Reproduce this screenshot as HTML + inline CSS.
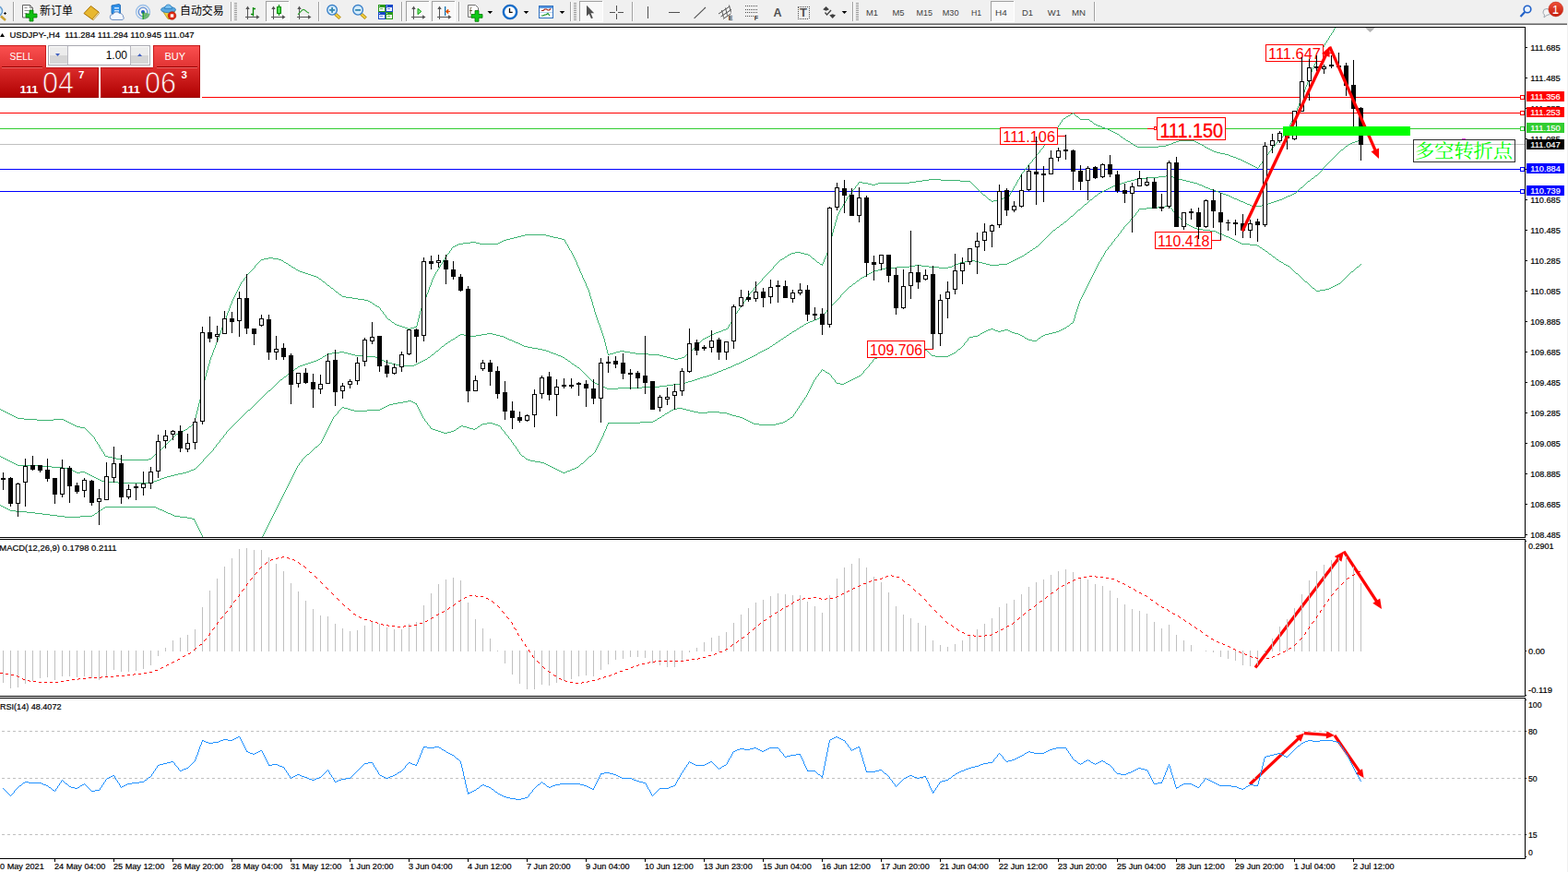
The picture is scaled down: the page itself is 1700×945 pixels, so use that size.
<!DOCTYPE html>
<html><head><meta charset="utf-8"><title>USDJPY H4</title>
<style>html,body{margin:0;padding:0;background:#fff;}body{width:1700px;height:945px;overflow:hidden;position:relative;font-family:"Liberation Sans", sans-serif;}svg{position:absolute;left:0;top:0;display:block}text{font-family:"Liberation Sans", sans-serif;}</style>
</head><body>
<svg width="1700" height="945" viewBox="0 0 1700 945">
<defs>
<linearGradient id="gTop" x1="0" y1="0" x2="0" y2="1"><stop offset="0" stop-color="#fb5050"/><stop offset="1" stop-color="#e03232"/></linearGradient>
<linearGradient id="gBot" x1="0" y1="0" x2="0" y2="1"><stop offset="0" stop-color="#dc2c2c"/><stop offset="1" stop-color="#ae0000"/></linearGradient>
<linearGradient id="gBotU" gradientUnits="userSpaceOnUse" x1="0" y1="73" x2="0" y2="106"><stop offset="0" stop-color="#dc2c2c"/><stop offset="1" stop-color="#ae0000"/></linearGradient>
<linearGradient id="gBtn" x1="0" y1="0" x2="0" y2="1"><stop offset="0" stop-color="#f4f4f4"/><stop offset="1" stop-color="#cfcfcf"/></linearGradient>
<linearGradient id="gBadge" x1="0" y1="0" x2="0" y2="1"><stop offset="0" stop-color="#ee5038"/><stop offset="1" stop-color="#c41c0c"/></linearGradient>
<clipPath id="cMain"><rect x="0" y="30" width="1653" height="552"/></clipPath>
<clipPath id="cMacd"><rect x="0" y="585" width="1653" height="169"/></clipPath>
<clipPath id="cRsi"><rect x="0" y="757" width="1653" height="173"/></clipPath>
</defs>
<rect x="0" y="0" width="1700" height="945" fill="#fff"/>
<g shape-rendering="crispEdges">
<g clip-path="url(#cMain)">
<rect x="219" y="105" width="1429" height="1" fill="#ff0000"/>
<rect x="0" y="122" width="1648" height="1" fill="#ff0000"/>
<rect x="0" y="139" width="1648" height="1" fill="#32cd32"/>
<rect x="0" y="156" width="1653" height="1" fill="#c0c0c0"/>
<rect x="0" y="183" width="1648" height="1" fill="#0000ff"/>
<rect x="0" y="207" width="1648" height="1" fill="#0000ff"/>
<path d="m0 443h1v1h-1zm1 1h2v1h-2zm2 1h2v1h-2zm2 1h2v1h-2zm2 1h2v1h-2zm2 1h2v1h-2zm2 1h2v1h-2zm2 1h2v1h-2zm2 1h2v1h-2zm2 1h2v1h-2zm2 1h7v1h-7zm7 1h14v1h-14zm14 1h18v1h-18zm18 -1h11v1h-11zm11 1h2v1h-2zm2 1h2v1h-2zm2 1h2v1h-2zm2 1h2v1h-2zm2 1h2v1h-2zm2 1h2v1h-2zm2 1h2v1h-2zm2 1h4v1h-4zm4 1h5v1h-5zm5 1h1v1h-1zm1 1h1v1h-1zm1 1h1v1h-1zm1 1h1v1h-1zm1 1h1v1h-1zm1 1h1v1h-1zm1 1h1v1h-1zm1 1h1v1h-1zm1 1h1v1h-1zm1 1h1v1h-1zm1 1h1v2h-1zm1 2h1v2h-1zm1 2h1v1h-1zm1 1h1v2h-1zm1 2h1v1h-1zm1 1h1v2h-1zm1 2h1v2h-1zm1 2h1v1h-1zm1 1h1v2h-1zm1 2h1v1h-1zm1 1h1v2h-1zm1 2h1v2h-1zm1 2h3v1h-3zm3 1h5v1h-5zm5 1h4v1h-4zm4 1h5v1h-5zm5 1h30v1h-30zm30 -1h3v1h-3zm3 -1h1v1h-1zm1 -1h1v1h-1zm1 -1h1v1h-1zm1 -1h1v1h-1zm1 -1h1v1h-1zm1 -1h1v1h-1zm1 -1h1v1h-1zm1 -1h2v1h-2zm2 -1h1v1h-1zm1 -1h1v1h-1zm1 -1h1v1h-1zm1 -1h1v1h-1zm1 -1h1v1h-1zm1 -1h1v1h-1zm1 -1h1v1h-1zm1 -1h1v1h-1zm1 -1h1v1h-1zm1 -1h1v1h-1zm1 -1h1v1h-1zm1 -1h1v1h-1zm1 -1h1v1h-1zm1 -1h1v1h-1zm1 -1h1v1h-1zm1 -1h1v1h-1zm1 -1h1v1h-1zm1 -1h1v1h-1zm1 -1h2v1h-2zm2 -1h2v1h-2zm2 -1h2v1h-2zm2 -1h2v1h-2zm2 -1h2v1h-2zm2 -1h2v1h-2zm2 -1h1v1h-1zm1 -1h1v1h-1zm1 -1h2v1h-2zm2 -1h1v1h-1zm1 -1h1v1h-1zm1 -1h1v1h-1zm1 -2h1v2h-1zm1 -4h1v4h-1zm1 -4h1v4h-1zm1 -4h1v4h-1zm1 -4h1v4h-1zm1 -4h1v4h-1zm1 -4h1v4h-1zm1 -5h1v5h-1zm1 -4h1v4h-1zm1 -4h1v4h-1zm1 -4h1v4h-1zm1 -4h1v4h-1zm1 -4h1v4h-1zm1 -4h1v4h-1zm1 -3h1v3h-1zm1 -4h1v4h-1zm1 -3h1v3h-1zm1 -4h1v4h-1zm1 -3h1v3h-1zm1 -2h1v2h-1zm1 -3h1v3h-1zm1 -3h1v3h-1zm1 -2h1v2h-1zm1 -3h1v3h-1zm1 -3h1v3h-1zm1 -2h1v2h-1zm1 -3h1v3h-1zm1 -3h1v3h-1zm1 -2h1v2h-1zm1 -3h1v3h-1zm1 -3h1v3h-1zm1 -2h1v2h-1zm1 -3h1v3h-1zm1 -3h1v3h-1zm1 -2h1v2h-1zm1 -3h1v3h-1zm1 -3h1v3h-1zm1 -2h1v2h-1zm1 -3h1v3h-1zm1 -3h1v3h-1zm1 -2h1v2h-1zm1 -3h1v3h-1zm1 -2h1v2h-1zm1 -2h1v2h-1zm1 -2h1v2h-1zm1 -2h1v2h-1zm1 -2h1v2h-1zm1 -2h1v2h-1zm1 -2h1v2h-1zm1 -2h1v2h-1zm1 -2h1v2h-1zm1 -2h1v2h-1zm1 -1h1v1h-1zm1 -1h1v1h-1zm1 -2h1v2h-1zm1 -1h1v1h-1zm1 -1h1v1h-1zm1 -2h1v2h-1zm1 -1h1v1h-1zm1 -1h1v1h-1zm1 -1h1v1h-1zm1 -1h1v1h-1zm1 -1h1v1h-1zm1 -1h1v1h-1zm1 -1h1v1h-1zm1 -1h1v1h-1zm1 -2h1v2h-1zm1 -1h1v1h-1zm1 -1h1v1h-1zm1 -1h1v1h-1zm1 -1h1v1h-1zm1 -1h1v1h-1zm1 -1h1v1h-1zm1 -1h3v1h-3zm3 -1h5v1h-5zm5 -1h5v1h-5zm5 1h6v1h-6zm6 1h3v1h-3zm3 1h2v1h-2zm2 1h1v1h-1zm1 1h2v1h-2zm2 1h2v1h-2zm2 1h1v1h-1zm1 1h2v1h-2zm2 1h1v1h-1zm1 1h2v1h-2zm2 1h2v1h-2zm2 1h1v1h-1zm1 1h2v1h-2zm2 1h2v1h-2zm2 1h3v1h-3zm3 1h3v1h-3zm3 1h3v1h-3zm3 1h3v1h-3zm3 1h3v1h-3zm3 1h3v1h-3zm3 1h2v1h-2zm2 1h1v1h-1zm1 1h2v1h-2zm2 1h1v1h-1zm1 1h1v1h-1zm1 1h2v1h-2zm2 1h1v1h-1zm1 1h1v1h-1zm1 1h1v1h-1zm1 1h2v1h-2zm2 1h1v1h-1zm1 1h1v1h-1zm1 1h2v1h-2zm2 1h1v1h-1zm1 1h1v1h-1zm1 1h1v1h-1zm1 1h2v1h-2zm2 1h1v1h-1zm1 1h1v1h-1zm1 1h2v1h-2zm2 1h1v1h-1zm1 1h4v1h-4zm4 1h7v1h-7zm7 1h6v1h-6zm6 1h7v1h-7zm7 1h4v1h-4zm4 1h2v1h-2zm2 1h2v1h-2zm2 1h1v1h-1zm1 1h2v1h-2zm2 1h1v1h-1zm1 1h2v1h-2zm2 1h2v1h-2zm2 1h1v1h-1zm1 1h1v2h-1zm1 2h1v1h-1zm1 1h1v1h-1zm1 1h1v2h-1zm1 2h1v1h-1zm1 1h1v1h-1zm1 1h1v2h-1zm1 2h1v1h-1zm1 1h1v1h-1zm1 1h2v1h-2zm2 1h1v1h-1zm1 1h1v1h-1zm1 1h2v1h-2zm2 1h1v1h-1zm1 1h2v1h-2zm2 1h3v1h-3zm3 1h3v1h-3zm3 1h3v1h-3zm3 1h3v1h-3zm3 1h3v1h-3zm3 -1h4v1h-4zm4 -1h3v1h-3zm2 -1h1v1h-1zm1 -4h1v4h-1zm1 -4h1v4h-1zm1 -4h1v4h-1zm1 -4h1v4h-1zm1 -3h1v3h-1zm1 -2h1v2h-1zm1 -3h1v3h-1zm1 -2h1v2h-1zm1 -3h1v3h-1zm1 -2h1v2h-1zm1 -3h1v3h-1zm1 -2h1v2h-1zm1 -3h1v3h-1zm1 -3h1v3h-1zm1 -2h1v2h-1zm1 -3h1v3h-1zm1 -3h1v3h-1zm1 -2h1v2h-1zm1 -2h1v2h-1zm1 -2h1v2h-1zm1 -2h1v2h-1zm1 -1h1v1h-1zm1 -2h1v2h-1zm1 -1h1v1h-1zm1 -2h1v2h-1zm1 -2h1v2h-1zm1 -1h1v1h-1zm1 -2h1v2h-1zm1 -2h1v2h-1zm1 -1h1v1h-1zm1 -2h1v2h-1zm1 -1h1v1h-1zm1 -2h1v2h-1zm1 -1h1v1h-1zm1 -1h1v1h-1zm1 -2h1v2h-1zm1 -1h1v1h-1zm1 -2h1v2h-1zm1 -1h1v1h-1zm1 -1h2v1h-2zm2 -1h2v1h-2zm2 -1h2v1h-2zm2 -1h5v1h-5zm5 -1h8v1h-8zm8 -1h6v1h-6zm6 1h4v1h-4zm4 1h20v1h-20zm20 -1h2v1h-2zm2 -1h2v1h-2zm2 -1h2v1h-2zm2 -1h3v1h-3zm3 -1h4v1h-4zm4 -1h4v1h-4zm4 -1h4v1h-4zm4 -1h4v1h-4zm4 -1h4v1h-4zm4 -1h23v1h-23zm23 1h4v1h-4zm4 1h4v1h-4zm4 1h5v1h-5zm5 1h4v1h-4zm4 1h3v1h-3zm3 1h1v2h-1zm1 2h1v2h-1zm1 2h1v1h-1zm1 1h1v2h-1zm1 2h1v2h-1zm1 2h1v2h-1zm1 2h1v1h-1zm1 1h1v2h-1zm1 2h1v2h-1zm1 2h1v2h-1zm1 2h1v2h-1zm1 2h1v2h-1zm1 2h1v2h-1zm1 2h1v3h-1zm1 3h1v2h-1zm1 2h1v2h-1zm1 2h1v3h-1zm1 3h1v2h-1zm1 2h1v2h-1zm1 2h1v3h-1zm1 3h1v2h-1zm1 2h1v2h-1zm1 2h1v2h-1zm1 2h1v3h-1zm1 3h1v2h-1zm1 2h1v2h-1zm1 2h1v3h-1zm1 3h1v4h-1zm1 4h1v3h-1zm1 3h1v3h-1zm1 3h1v4h-1zm1 4h1v3h-1zm1 3h1v4h-1zm1 4h1v3h-1zm1 3h1v3h-1zm1 3h1v3h-1zm1 3h1v3h-1zm1 3h1v2h-1zm1 2h1v3h-1zm1 3h1v3h-1zm1 3h1v3h-1zm1 3h1v3h-1zm1 3h1v3h-1zm1 3h1v4h-1zm1 4h1v4h-1zm1 4h1v4h-1zm1 4h1v4h-1zm1 4h1v2h-1zm1 1h1v1h-1zm1 -1h4v1h-4zm4 -1h3v1h-3zm3 -1h4v1h-4zm4 -1h5v1h-5zm5 1h6v1h-6zm6 1h6v1h-6zm6 1h14v1h-14zm14 1h12v1h-12zm12 1h4v1h-4zm4 1h4v1h-4zm4 1h4v1h-4zm4 1h4v1h-4zm4 1h4v1h-4zm4 -1h4v1h-4zm4 -1h3v1h-3zm3 -1h1v1h-1zm1 -1h1v1h-1zm1 -1h1v1h-1zm1 -1h1v1h-1zm1 -1h2v1h-2zm2 -1h1v1h-1zm1 -1h1v1h-1zm1 -1h1v1h-1zm1 -1h1v1h-1zm1 -1h1v1h-1zm1 -1h1v1h-1zm1 -1h1v1h-1zm1 -1h1v1h-1zm1 -1h1v1h-1zm1 -1h1v1h-1zm1 -1h1v1h-1zm1 -1h1v1h-1zm1 -1h1v1h-1zm1 -1h1v1h-1zm1 -1h2v1h-2zm2 -1h2v1h-2zm2 -1h2v1h-2zm2 -1h2v1h-2zm2 -1h2v1h-2zm2 -1h2v1h-2zm2 -1h2v1h-2zm2 -1h3v1h-3zm3 -1h3v1h-3zm3 -1h2v1h-2zm2 -1h3v1h-3zm3 -1h2v1h-2zm2 -2h1v2h-1zm1 -2h1v2h-1zm1 -1h1v1h-1zm1 -2h1v2h-1zm1 -2h1v2h-1zm1 -2h1v2h-1zm1 -1h1v1h-1zm1 -2h1v2h-1zm1 -2h1v2h-1zm1 -1h1v1h-1zm1 -2h1v2h-1zm1 -1h1v1h-1zm1 -2h1v2h-1zm1 -1h1v1h-1zm1 -2h1v2h-1zm1 -1h1v1h-1zm1 -1h1v1h-1zm1 -2h1v2h-1zm1 -1h1v1h-1zm1 -2h1v2h-1zm1 -1h1v1h-1zm1 -2h1v2h-1zm1 -1h1v1h-1zm1 -2h1v2h-1zm1 -1h1v1h-1zm1 -1h1v1h-1zm1 -1h1v1h-1zm1 -1h1v1h-1zm1 -2h1v2h-1zm1 -1h1v1h-1zm1 -1h1v1h-1zm1 -1h1v1h-1zm1 -1h1v1h-1zm1 -1h1v1h-1zm1 -1h1v1h-1zm1 -1h1v1h-1zm1 -1h1v1h-1zm1 -2h1v2h-1zm1 -1h1v1h-1zm1 -1h1v1h-1zm1 -1h1v1h-1zm1 -1h1v1h-1zm1 -1h1v1h-1zm1 -1h1v1h-1zm1 -1h1v1h-1zm1 -1h1v1h-1zm1 -1h1v1h-1zm1 -1h1v1h-1zm1 -1h1v1h-1zm1 -2h1v2h-1zm1 -1h1v1h-1zm1 -1h1v1h-1zm1 -1h1v1h-1zm1 -1h1v1h-1zm1 -1h1v1h-1zm1 -1h1v1h-1zm1 -1h1v1h-1zm1 -1h2v1h-2zm2 -1h2v1h-2zm2 -1h1v1h-1zm1 -1h2v1h-2zm2 -1h1v1h-1zm1 -1h2v1h-2zm2 -1h2v1h-2zm2 -1h4v1h-4zm4 -1h6v1h-6zm6 1h4v1h-4zm4 1h4v1h-4zm4 1h2v1h-2zm2 1h1v1h-1zm1 1h1v1h-1zm1 1h1v1h-1zm1 1h2v1h-2zm2 1h1v1h-1zm1 1h1v1h-1zm1 1h1v1h-1zm1 1h2v1h-2zm2 1h1v1h-1zm1 1h2v1h-2zm2 0h1v2h-1zm1 -2h1v2h-1zm1 -3h1v3h-1zm1 -2h1v2h-1zm1 -2h1v2h-1zm1 -3h1v3h-1zm1 -2h1v2h-1zm1 -4h1v4h-1zm1 -4h1v4h-1zm1 -4h1v4h-1zm1 -4h1v4h-1zm1 -4h1v4h-1zm1 -4h1v4h-1zm1 -3h1v3h-1zm1 -4h1v4h-1zm1 -3h1v3h-1zm1 -4h1v4h-1zm1 -2h1v2h-1zm1 -2h1v2h-1zm1 -2h1v2h-1zm1 -2h1v2h-1zm1 -1h1v1h-1zm1 -2h1v2h-1zm1 -2h1v2h-1zm1 -1h1v1h-1zm1 -2h1v2h-1zm1 -2h1v2h-1zm1 -2h1v2h-1zm1 -1h1v1h-1zm1 -1h1v1h-1zm1 -2h1v2h-1zm1 -1h1v1h-1zm1 -1h1v1h-1zm1 -2h1v2h-1zm1 -1h1v1h-1zm1 -1h1v1h-1zm1 -2h1v2h-1zm1 -1h1v1h-1zm1 -1h1v1h-1zm1 -2h1v2h-1zm1 -1h4v1h-4zm4 1h6v1h-6zm6 1h4v1h-4zm4 1h4v1h-4zm4 -1h3v1h-3zm3 -1h34v1h-34zm34 -1h7v1h-7zm7 -1h7v1h-7zm7 -1h7v1h-7zm7 -1h13v1h-13zm13 1h21v1h-21zm21 1h11v1h-11zm11 1h1v1h-1zm1 1h1v1h-1zm1 1h1v1h-1zm1 1h1v1h-1zm1 1h1v1h-1zm1 1h1v1h-1zm1 1h1v1h-1zm1 1h1v1h-1zm1 1h1v1h-1zm1 1h1v1h-1zm1 1h1v1h-1zm1 1h1v1h-1zm1 1h1v1h-1zm1 1h1v1h-1zm1 1h2v1h-2zm2 1h1v1h-1zm1 1h1v1h-1zm1 1h1v1h-1zm1 1h1v1h-1zm1 1h2v1h-2zm2 1h1v1h-1zm1 1h2v1h-2zm2 -1h4v1h-4zm4 -1h3v1h-3zm3 -1h4v1h-4zm4 -1h4v1h-4zm4 -1h2v1h-2zm2 -2h1v2h-1zm1 -2h1v2h-1zm1 -2h1v2h-1zm1 -1h1v1h-1zm1 -2h1v2h-1zm1 -2h1v2h-1zm1 -1h1v1h-1zm1 -2h1v2h-1zm1 -2h1v2h-1zm1 -2h1v2h-1zm1 -1h1v1h-1zm1 -2h1v2h-1zm1 -2h1v2h-1zm1 -2h1v2h-1zm1 -1h1v1h-1zm1 -1h1v1h-1zm1 -2h1v2h-1zm1 -1h1v1h-1zm1 -1h1v1h-1zm1 -1h1v1h-1zm1 -2h1v2h-1zm1 -1h1v1h-1zm1 -1h1v1h-1zm1 -1h1v1h-1zm1 -1h1v1h-1zm1 -2h1v2h-1zm1 -1h1v1h-1zm1 -1h1v1h-1zm1 -1h1v1h-1zm1 -2h1v2h-1zm1 -1h1v1h-1zm1 -1h1v1h-1zm1 -1h1v1h-1zm1 -2h1v2h-1zm1 -1h1v1h-1zm1 -1h1v1h-1zm1 -1h1v1h-1zm1 -2h1v2h-1zm1 -1h1v1h-1zm1 -1h1v1h-1zm1 -2h1v2h-1zm1 -1h1v1h-1zm1 -1h1v1h-1zm1 -1h1v1h-1zm1 -2h1v2h-1zm1 -1h1v1h-1zm1 -1h1v1h-1zm1 -2h1v2h-1zm1 -1h1v1h-1zm1 -2h1v2h-1zm1 -1h1v1h-1zm1 -2h1v2h-1zm1 -1h1v1h-1zm1 -2h1v2h-1zm1 -1h1v1h-1zm1 -2h1v2h-1zm1 -1h1v1h-1zm1 -2h1v2h-1zm1 -1h1v1h-1zm1 -1h2v1h-2zm2 -1h1v1h-1zm1 -1h2v1h-2zm2 -1h2v1h-2zm2 -1h1v1h-1zm1 -1h2v1h-2zm2 -1h1v1h-1zm1 1h1v1h-1zm1 1h1v1h-1zm1 1h1v1h-1zm1 1h2v1h-2zm2 1h1v1h-1zm1 1h1v1h-1zm1 1h10v1h-10zm10 1h1v1h-1zm1 1h2v1h-2zm2 1h1v1h-1zm1 1h1v1h-1zm1 1h2v1h-2zm2 1h2v1h-2zm2 1h3v1h-3zm3 1h2v1h-2zm2 1h3v1h-3zm3 1h3v1h-3zm3 1h2v1h-2zm2 1h2v1h-2zm2 1h2v1h-2zm2 1h2v1h-2zm2 1h2v1h-2zm2 1h2v1h-2zm2 1h1v1h-1zm1 1h1v1h-1zm1 1h2v1h-2zm2 1h1v1h-1zm1 1h2v1h-2zm2 1h1v1h-1zm1 1h2v1h-2zm2 1h2v1h-2zm2 1h1v1h-1zm1 1h2v1h-2zm2 1h1v1h-1zm1 1h2v1h-2zm2 1h2v1h-2zm2 1h23v1h-23zm23 -1h8v1h-8zm8 -1h3v1h-3zm3 -1h3v1h-3zm3 -1h2v1h-2zm2 -1h3v1h-3zm3 -1h3v1h-3zm3 -1h17v1h-17zm17 1h2v1h-2zm2 1h2v1h-2zm2 1h2v1h-2zm2 1h2v1h-2zm2 1h2v1h-2zm2 1h1v1h-1zm1 1h2v1h-2zm2 1h2v1h-2zm2 1h2v1h-2zm2 1h2v1h-2zm2 1h2v1h-2zm2 1h3v1h-3zm3 1h4v1h-4zm4 1h5v1h-5zm5 1h4v1h-4zm4 1h2v1h-2zm2 1h3v1h-3zm3 1h3v1h-3zm3 1h2v1h-2zm2 1h3v1h-3zm3 1h2v1h-2zm2 1h2v1h-2zm2 1h2v1h-2zm2 1h2v1h-2zm2 1h2v1h-2zm2 1h2v1h-2zm2 1h2v1h-2zm2 1h2v1h-2zm2 1h2v1h-2zm2 1h1v1h-1zm1 -1h1v1h-1zm1 -2h1v2h-1zm1 -1h1v1h-1zm1 -1h1v1h-1zm1 -2h1v2h-1zm1 -1h1v1h-1zm1 -2h1v2h-1zm1 -1h1v1h-1zm1 -1h1v1h-1zm1 -2h1v2h-1zm1 -1h1v1h-1zm1 -2h1v2h-1zm1 -1h1v1h-1zm1 -1h1v1h-1zm1 -2h1v2h-1zm1 -1h1v1h-1zm1 -1h1v1h-1zm1 -1h1v1h-1zm1 -2h1v2h-1zm1 -1h1v1h-1zm1 -1h1v1h-1zm1 -1h1v1h-1zm1 -1h1v1h-1zm1 -1h1v1h-1zm1 -1h1v1h-1zm1 -1h1v1h-1zm1 -1h1v1h-1zm1 -1h1v1h-1zm1 -1h1v1h-1zm1 -2h1v2h-1zm1 -2h1v2h-1zm1 -1h1v1h-1zm1 -2h1v2h-1zm1 -2h1v2h-1zm1 -2h1v2h-1zm1 -2h1v2h-1zm1 -2h1v2h-1zm1 -2h1v2h-1zm1 -3h1v3h-1zm1 -2h1v2h-1zm1 -2h1v2h-1zm1 -2h1v2h-1zm1 -3h1v3h-1zm1 -2h1v2h-1zm1 -3h1v3h-1zm1 -2h1v2h-1zm1 -3h1v3h-1zm1 -2h1v2h-1zm1 -3h1v3h-1zm1 -2h1v2h-1zm1 -3h1v3h-1zm1 -3h1v3h-1zm1 -2h1v2h-1zm1 -3h1v3h-1zm1 -3h1v3h-1zm1 -3h1v3h-1zm1 -2h1v2h-1zm1 -3h1v3h-1zm1 -3h1v3h-1zm1 -2h1v2h-1zm1 -2h1v2h-1zm1 -2h1v2h-1zm1 -2h1v2h-1zm1 -2h1v2h-1zm1 -2h1v2h-1zm1 -2h1v2h-1zm1 -2h1v2h-1zm1 -2h1v2h-1zm1 -2h1v2h-1zm1 -2h1v2h-1zm1 -2h1v2h-1zm1 -2h1v2h-1zm1 -2h1v2h-1zm1 -1h1v1h-1zm1 -2h1v2h-1zm1 -1h1v1h-1zm1 -2h1v2h-1zm1 -2h1v2h-1zm1 -1h1v1h-1zm1 -2h1v2h-1zm1 -1h1v1h-1zm1 -2h1v2h-1zm1 -2h1v2h-1zm1 -1h1v1h-1zm1 -2h1v2h-1zm1 -2h1v2h-1zm1 -2h1v2h-1zm1 -2h1v2h-1zm1 -2h1v2h-1z" fill="#3cb371"/>
<path d="m0 494h1v1h-1zm1 1h2v1h-2zm2 1h2v1h-2zm2 1h2v1h-2zm2 1h2v1h-2zm2 1h2v1h-2zm2 1h2v1h-2zm2 1h2v1h-2zm2 1h2v1h-2zm2 1h2v1h-2zm2 1h25v1h-25zm25 1h12v1h-12zm12 1h12v1h-12zm12 1h7v1h-7zm7 1h2v1h-2zm2 1h2v1h-2zm2 1h2v1h-2zm2 1h2v1h-2zm2 1h4v1h-4zm4 -1h5v1h-5zm5 1h2v1h-2zm2 1h2v1h-2zm2 1h2v1h-2zm2 1h2v1h-2zm2 1h2v1h-2zm2 1h2v1h-2zm2 1h2v1h-2zm2 1h2v1h-2zm2 1h2v1h-2zm2 1h6v1h-6zm6 1h12v1h-12zm12 1h37v1h-37zm37 -1h2v1h-2zm2 -1h3v1h-3zm3 -1h3v1h-3zm3 -1h2v1h-2zm2 -1h3v1h-3zm3 -1h3v1h-3zm3 -1h4v1h-4zm4 -1h4v1h-4zm4 -1h4v1h-4zm4 -1h5v1h-5zm5 -1h4v1h-4zm4 -1h3v1h-3zm3 -1h2v1h-2zm2 -1h3v1h-3zm3 -1h2v1h-2zm2 -1h1v1h-1zm1 -1h1v1h-1zm1 -1h1v1h-1zm1 -1h1v1h-1zm1 -1h1v1h-1zm1 -1h1v1h-1zm1 -1h1v1h-1zm1 -1h1v1h-1zm1 -2h1v2h-1zm1 -1h1v1h-1zm1 -1h1v1h-1zm1 -1h1v1h-1zm1 -1h1v1h-1zm1 -1h1v1h-1zm1 -1h1v1h-1zm1 -1h1v1h-1zm1 -1h1v1h-1zm1 -1h1v1h-1zm1 -1h1v1h-1zm1 -2h1v2h-1zm1 -1h1v1h-1zm1 -1h1v1h-1zm1 -2h1v2h-1zm1 -1h1v1h-1zm1 -1h1v1h-1zm1 -1h1v1h-1zm1 -2h1v2h-1zm1 -1h1v1h-1zm1 -1h1v1h-1zm1 -1h1v1h-1zm1 -2h1v2h-1zm1 -1h1v1h-1zm1 -1h1v1h-1zm1 -2h1v2h-1zm1 -1h1v1h-1zm1 -1h1v1h-1zm1 -1h1v1h-1zm1 -1h1v1h-1zm1 -1h1v1h-1zm1 -1h1v1h-1zm1 -1h1v1h-1zm1 -1h1v1h-1zm1 -1h1v1h-1zm1 -1h1v1h-1zm1 -1h1v1h-1zm1 -1h1v1h-1zm1 -1h1v1h-1zm1 -1h1v1h-1zm1 -1h1v1h-1zm1 -1h1v1h-1zm1 -1h1v1h-1zm1 -1h1v1h-1zm1 -1h1v1h-1zm1 -1h1v1h-1zm1 -1h1v1h-1zm1 -1h1v1h-1zm1 -1h1v1h-1zm1 -1h2v1h-2zm2 -1h1v1h-1zm1 -1h1v1h-1zm1 -1h1v1h-1zm1 -1h1v1h-1zm1 -1h1v1h-1zm1 -1h1v1h-1zm1 -1h1v1h-1zm1 -1h1v1h-1zm1 -1h1v1h-1zm1 -1h1v1h-1zm1 -1h1v1h-1zm1 -1h1v1h-1zm1 -1h1v1h-1zm1 -1h1v1h-1zm1 -1h1v1h-1zm1 -1h1v1h-1zm1 -1h1v1h-1zm1 -1h1v1h-1zm1 -1h1v1h-1zm1 -1h1v1h-1zm1 -1h2v1h-2zm2 -1h1v1h-1zm1 -1h1v1h-1zm1 -1h1v1h-1zm1 -1h1v1h-1zm1 -1h1v1h-1zm1 -1h1v1h-1zm1 -1h1v1h-1zm1 -1h1v1h-1zm1 -1h1v1h-1zm1 -1h1v1h-1zm1 -1h1v1h-1zm1 -1h2v1h-2zm2 -1h1v1h-1zm1 -1h1v1h-1zm1 -1h2v1h-2zm2 -1h1v1h-1zm1 -1h1v1h-1zm1 -1h2v1h-2zm2 -1h1v1h-1zm1 -1h1v1h-1zm1 -1h2v1h-2zm2 -1h1v1h-1zm1 -1h1v1h-1zm1 -1h2v1h-2zm2 -1h1v1h-1zm1 -1h2v1h-2zm2 -1h3v1h-3zm3 -1h3v1h-3zm3 -1h3v1h-3zm3 -1h3v1h-3zm3 -1h3v1h-3zm3 -1h3v1h-3zm3 -1h2v1h-2zm2 -1h2v1h-2zm2 -1h2v1h-2zm2 -1h1v1h-1zm1 -1h2v1h-2zm2 -1h2v1h-2zm2 -1h2v1h-2zm2 -1h4v1h-4zm4 -1h8v1h-8zm8 -1h5v1h-5zm5 1h4v1h-4zm4 1h4v1h-4zm4 1h4v1h-4zm4 1h11v1h-11zm11 1h11v1h-11zm11 1h2v1h-2zm2 1h2v1h-2zm2 1h3v1h-3zm3 1h2v1h-2zm2 1h2v1h-2zm2 1h3v1h-3zm3 1h4v1h-4zm4 1h4v1h-4zm4 1h4v1h-4zm4 1h16v1h-16zm16 -1h2v1h-2zm2 -1h2v1h-2zm2 -1h2v1h-2zm2 -1h2v1h-2zm2 -1h2v1h-2zm2 -1h2v1h-2zm2 -1h2v1h-2zm2 -1h1v1h-1zm1 -1h2v1h-2zm2 -1h1v1h-1zm1 -1h1v1h-1zm1 -1h2v1h-2zm2 -1h1v1h-1zm1 -1h1v1h-1zm1 -1h1v1h-1zm1 -1h2v1h-2zm2 -1h1v1h-1zm1 -1h1v1h-1zm1 -1h1v1h-1zm1 -1h1v1h-1zm1 -1h2v1h-2zm2 -1h1v1h-1zm1 -1h1v1h-1zm1 -1h2v1h-2zm2 -1h1v1h-1zm1 -1h2v1h-2zm2 -1h1v1h-1zm1 -1h2v1h-2zm2 -1h2v1h-2zm2 -1h1v1h-1zm1 -1h2v1h-2zm2 -1h1v1h-1zm1 -1h2v1h-2zm2 -1h4v1h-4zm4 1h6v1h-6zm6 1h7v1h-7zm7 -1h6v1h-6zm6 -1h6v1h-6zm6 -1h6v1h-6zm6 1h4v1h-4zm4 1h4v1h-4zm4 1h4v1h-4zm4 1h2v1h-2zm2 1h2v1h-2zm2 1h2v1h-2zm2 1h3v1h-3zm3 1h2v1h-2zm2 1h2v1h-2zm2 1h3v1h-3zm3 1h2v1h-2zm2 1h2v1h-2zm2 1h2v1h-2zm2 1h4v1h-4zm4 1h5v1h-5zm5 1h6v1h-6zm6 1h5v1h-5zm5 1h4v1h-4zm4 1h3v1h-3zm3 1h2v1h-2zm2 1h3v1h-3zm3 1h3v1h-3zm3 1h2v1h-2zm2 1h3v1h-3zm3 1h2v1h-2zm2 1h2v1h-2zm2 1h1v1h-1zm1 1h2v1h-2zm2 1h1v1h-1zm1 1h2v1h-2zm2 1h1v1h-1zm1 1h1v1h-1zm1 1h2v1h-2zm2 1h1v1h-1zm1 1h2v1h-2zm2 1h1v1h-1zm1 1h2v1h-2zm2 1h1v1h-1zm1 1h1v1h-1zm1 1h1v1h-1zm1 1h1v1h-1zm1 1h1v1h-1zm1 1h1v1h-1zm1 1h1v1h-1zm1 1h1v1h-1zm1 1h1v1h-1zm1 1h1v1h-1zm1 1h1v1h-1zm1 1h1v1h-1zm1 1h1v1h-1zm1 1h1v1h-1zm1 1h1v1h-1zm1 1h2v1h-2zm2 1h2v1h-2zm2 1h2v1h-2zm2 1h2v1h-2zm2 1h3v1h-3zm3 1h2v1h-2zm2 1h2v1h-2zm2 1h12v1h-12zm12 -1h26v1h-26zm26 -1h19v1h-19zm19 -1h8v1h-8zm8 -1h7v1h-7zm7 -1h8v1h-8zm8 -1h5v1h-5zm5 -1h3v1h-3zm3 -1h4v1h-4zm4 -1h3v1h-3zm3 -1h3v1h-3zm3 -1h3v1h-3zm3 -1h3v1h-3zm3 -1h4v1h-4zm4 -1h3v1h-3zm3 -1h3v1h-3zm3 -1h2v1h-2zm2 -1h3v1h-3zm3 -1h2v1h-2zm2 -1h3v1h-3zm3 -1h2v1h-2zm2 -1h3v1h-3zm3 -1h2v1h-2zm2 -1h3v1h-3zm3 -1h2v1h-2zm2 -1h2v1h-2zm2 -1h2v1h-2zm2 -1h3v1h-3zm3 -1h2v1h-2zm2 -1h2v1h-2zm2 -1h2v1h-2zm2 -1h2v1h-2zm2 -1h2v1h-2zm2 -1h2v1h-2zm2 -1h2v1h-2zm2 -1h2v1h-2zm2 -1h2v1h-2zm2 -1h2v1h-2zm2 -1h1v1h-1zm1 -1h2v1h-2zm2 -1h2v1h-2zm2 -1h2v1h-2zm2 -1h2v1h-2zm2 -1h2v1h-2zm2 -1h2v1h-2zm2 -1h1v1h-1zm1 -1h2v1h-2zm2 -1h1v1h-1zm1 -1h2v1h-2zm2 -1h1v1h-1zm1 -1h2v1h-2zm2 -1h1v1h-1zm1 -1h2v1h-2zm2 -1h1v1h-1zm1 -1h2v1h-2zm2 -1h1v1h-1zm1 -1h2v1h-2zm2 -1h1v1h-1zm1 -1h2v1h-2zm2 -1h1v1h-1zm1 -1h2v1h-2zm2 -1h1v1h-1zm1 -1h2v1h-2zm2 -1h2v1h-2zm2 -1h1v1h-1zm1 -1h2v1h-2zm2 -1h1v1h-1zm1 -1h2v1h-2zm2 -1h2v1h-2zm2 -1h1v1h-1zm1 -1h2v1h-2zm2 -1h2v1h-2zm2 -1h2v1h-2zm2 -1h3v1h-3zm3 -1h2v1h-2zm2 -1h3v1h-3zm3 -1h2v1h-2zm2 -1h2v1h-2zm2 -1h1v1h-1zm1 -1h1v1h-1zm1 -1h1v1h-1zm1 -1h1v1h-1zm1 -1h1v1h-1zm1 -1h1v1h-1zm1 -2h1v2h-1zm1 -1h1v1h-1zm1 -1h1v1h-1zm1 -1h1v1h-1zm1 -1h1v1h-1zm1 -1h1v1h-1zm1 -1h1v1h-1zm1 -1h1v1h-1zm1 -1h1v1h-1zm1 -1h1v1h-1zm1 -1h1v1h-1zm1 -1h1v1h-1zm1 -1h1v1h-1zm1 -1h1v1h-1zm1 -1h1v1h-1zm1 -2h1v2h-1zm1 -1h1v1h-1zm1 -1h1v1h-1zm1 -1h1v1h-1zm1 -1h1v1h-1zm1 -1h1v1h-1zm1 -1h1v1h-1zm1 -1h1v1h-1zm1 -1h1v1h-1zm1 -1h1v1h-1zm1 -1h2v1h-2zm2 -1h1v1h-1zm1 -1h1v1h-1zm1 -1h2v1h-2zm2 -1h1v1h-1zm1 -1h1v1h-1zm1 -1h2v1h-2zm2 -1h1v1h-1zm1 -1h1v1h-1zm1 -1h2v1h-2zm2 -1h2v1h-2zm2 -1h2v1h-2zm2 -1h1v1h-1zm1 -1h2v1h-2zm2 -1h2v1h-2zm2 -1h2v1h-2zm2 -1h2v1h-2zm2 -1h4v1h-4zm4 -1h4v1h-4zm4 -1h4v1h-4zm4 -1h12v1h-12zm12 -1h14v1h-14zm14 -1h6v1h-6zm6 -1h7v1h-7zm7 1h8v1h-8zm8 1h11v1h-11zm11 1h10v1h-10zm10 -1h4v1h-4zm4 -1h2v1h-2zm2 -1h2v1h-2zm2 -1h3v1h-3zm3 -1h2v1h-2zm2 -1h5v1h-5zm5 -1h6v1h-6zm6 -1h5v1h-5zm5 1h4v1h-4zm4 1h4v1h-4zm4 1h4v1h-4zm4 1h4v1h-4zm4 1h10v1h-10zm10 -1h9v1h-9zm9 -1h2v1h-2zm2 -1h2v1h-2zm2 -1h2v1h-2zm2 -1h2v1h-2zm2 -1h2v1h-2zm2 -1h2v1h-2zm2 -1h2v1h-2zm2 -1h2v1h-2zm2 -1h2v1h-2zm2 -1h1v1h-1zm1 -1h2v1h-2zm2 -1h1v1h-1zm1 -1h2v1h-2zm2 -1h1v1h-1zm1 -1h2v1h-2zm2 -1h1v1h-1zm1 -1h2v1h-2zm2 -1h1v1h-1zm1 -1h2v1h-2zm2 -1h1v1h-1zm1 -1h1v1h-1zm1 -1h1v1h-1zm1 -1h1v1h-1zm1 -1h1v1h-1zm1 -1h1v1h-1zm1 -1h1v1h-1zm1 -1h1v1h-1zm1 -1h1v1h-1zm1 -1h1v1h-1zm1 -1h1v1h-1zm1 -1h1v1h-1zm1 -1h1v1h-1zm1 -1h1v1h-1zm1 -1h1v1h-1zm1 -1h1v1h-1zm1 -1h1v1h-1zm1 -1h2v1h-2zm2 -1h1v1h-1zm1 -1h1v1h-1zm1 -1h2v1h-2zm2 -1h1v1h-1zm1 -1h1v1h-1zm1 -1h2v1h-2zm2 -1h1v1h-1zm1 -1h1v1h-1zm1 -1h2v1h-2zm2 -1h1v1h-1zm1 -1h1v1h-1zm1 -1h1v1h-1zm1 -1h1v1h-1zm1 -1h1v1h-1zm1 -1h2v1h-2zm2 -1h1v1h-1zm1 -1h1v1h-1zm1 -1h1v1h-1zm1 -1h1v1h-1zm1 -1h1v1h-1zm1 -1h1v1h-1zm1 -1h2v1h-2zm2 -1h1v1h-1zm1 -1h1v1h-1zm1 -1h1v1h-1zm1 -1h1v1h-1zm1 -1h1v1h-1zm1 -1h2v1h-2zm2 -1h1v1h-1zm1 -1h1v1h-1zm1 -1h1v1h-1zm1 -1h1v1h-1zm1 -1h2v1h-2zm2 -1h1v1h-1zm1 -1h1v1h-1zm1 -1h1v1h-1zm1 -1h2v1h-2zm2 -1h1v1h-1zm1 -1h1v1h-1zm1 -1h2v1h-2zm2 -1h2v1h-2zm2 -1h2v1h-2zm2 -1h2v1h-2zm2 -1h2v1h-2zm2 -1h2v1h-2zm2 -1h2v1h-2zm2 -1h2v1h-2zm2 -1h3v1h-3zm3 -1h3v1h-3zm3 -1h3v1h-3zm3 -1h3v1h-3zm3 -1h3v1h-3zm3 -1h4v1h-4zm4 -1h4v1h-4zm4 -1h4v1h-4zm4 -1h10v1h-10zm10 -1h12v1h-12zm12 -1h8v1h-8zm8 -1h5v1h-5zm5 1h3v1h-3zm3 1h3v1h-3zm3 1h3v1h-3zm3 1h4v1h-4zm4 1h4v1h-4zm4 1h4v1h-4zm4 1h4v1h-4zm4 1h4v1h-4zm4 1h2v1h-2zm2 1h3v1h-3zm3 1h2v1h-2zm2 1h2v1h-2zm2 1h3v1h-3zm3 1h2v1h-2zm2 1h3v1h-3zm3 1h3v1h-3zm3 1h3v1h-3zm3 1h2v1h-2zm2 1h3v1h-3zm3 1h3v1h-3zm3 1h3v1h-3zm3 1h2v1h-2zm2 1h2v1h-2zm2 1h2v1h-2zm2 1h3v1h-3zm3 1h2v1h-2zm2 1h2v1h-2zm2 1h3v1h-3zm3 1h2v1h-2zm2 1h2v1h-2zm2 1h3v1h-3zm3 1h2v1h-2zm2 1h11v1h-11zm11 -1h3v1h-3zm3 -1h4v1h-4zm4 -1h3v1h-3zm3 -1h3v1h-3zm3 -1h3v1h-3zm3 -1h3v1h-3zm3 -1h3v1h-3zm3 -1h2v1h-2zm2 -1h2v1h-2zm2 -1h2v1h-2zm2 -1h3v1h-3zm3 -1h2v1h-2zm2 -1h2v1h-2zm2 -1h2v1h-2zm2 -1h1v1h-1zm1 -1h1v1h-1zm1 -1h1v1h-1zm1 -1h1v1h-1zm1 -1h1v1h-1zm1 -1h2v1h-2zm2 -1h1v1h-1zm1 -1h1v1h-1zm1 -1h1v1h-1zm1 -1h1v1h-1zm1 -1h1v1h-1zm1 -1h1v1h-1zm1 -1h2v1h-2zm2 -1h1v1h-1zm1 -1h1v1h-1zm1 -1h2v1h-2zm2 -1h1v1h-1zm1 -1h1v1h-1zm1 -1h2v1h-2zm2 -1h1v1h-1zm1 -1h1v1h-1zm1 -1h1v1h-1zm1 -1h1v1h-1zm1 -1h1v1h-1zm1 -1h1v1h-1zm1 -2h1v2h-1zm1 -1h1v1h-1zm1 -1h1v1h-1zm1 -1h1v1h-1zm1 -1h1v1h-1zm1 -1h1v1h-1zm1 -1h1v1h-1zm1 -1h1v1h-1zm1 -1h1v1h-1zm1 -1h1v1h-1zm1 -1h1v1h-1zm1 -1h1v1h-1zm1 -1h1v1h-1zm1 -1h1v1h-1zm1 -1h1v1h-1zm1 -1h1v1h-1zm1 -1h1v1h-1zm1 -1h1v1h-1zm1 -1h1v1h-1zm1 -1h1v1h-1zm1 -1h2v1h-2zm2 -1h1v1h-1zm1 -1h1v1h-1zm1 -1h1v1h-1zm1 -1h2v1h-2zm2 -1h1v1h-1zm1 -1h2v1h-2zm2 -1h2v1h-2zm2 -1h3v1h-3zm3 -1h3v1h-3zm3 -1h2v1h-2zm2 -1h2v1h-2z" fill="#3cb371"/>
<path d="m0 547h1v1h-1zm1 1h2v1h-2zm2 1h2v1h-2zm2 1h2v1h-2zm2 1h2v1h-2zm2 1h2v1h-2zm2 1h6v1h-6zm6 1h12v1h-12zm12 1h9v1h-9zm9 1h8v1h-8zm8 1h8v1h-8zm8 1h8v1h-8zm8 1h8v1h-8zm8 1h17v1h-17zm17 -1h13v1h-13zm13 -1h2v1h-2zm2 -1h1v1h-1zm1 -1h2v1h-2zm2 -1h1v1h-1zm1 -1h2v1h-2zm2 -1h1v1h-1zm1 -1h2v1h-2zm2 -1h1v1h-1zm1 -1h2v1h-2zm2 -1h55v1h-55zm55 1h2v1h-2zm2 1h2v1h-2zm2 1h3v1h-3zm3 1h2v1h-2zm2 1h2v1h-2zm2 1h2v1h-2zm2 1h3v1h-3zm3 1h2v1h-2zm2 1h2v1h-2zm2 1h6v1h-6zm6 1h8v1h-8zm8 1h5v1h-5zm5 1h3v1h-3zm2 1h1v1h-1zm1 1h1v2h-1zm1 2h1v2h-1zm1 2h1v2h-1zm1 2h1v2h-1zm1 2h1v2h-1zm1 2h1v2h-1zm1 2h1v2h-1zm1 2h1v2h-1zm1 2h1v3h-1zm1 3h1v4h-1zm1 4h1v3h-1zm1 3h1v4h-1zm1 4h1v3h-1zm1 3h1v4h-1zm1 4h1v4h-1zm1 4h1v3h-1zm1 3h1v4h-1zm1 4h1v3h-1zm1 3h1v4h-1zm1 4h1v2h-1zm1 2h1v1h-1zm1 1h1v1h-1zm1 1h1v2h-1zm1 2h1v1h-1zm1 1h1v1h-1zm1 1h1v1h-1zm1 1h1v1h-1zm1 1h1v2h-1zm1 2h1v1h-1zm1 1h1v1h-1zm1 1h1v1h-1zm1 1h1v1h-1zm1 1h1v2h-1zm1 2h1v1h-1zm1 1h1v1h-1zm1 1h1v1h-1zm1 1h1v1h-1zm1 1h1v2h-1zm1 2h1v1h-1zm1 1h1v1h-1zm1 1h1v1h-1zm1 1h1v1h-1zm1 1h1v2h-1zm1 2h1v1h-1zm1 1h1v1h-1zm1 -2h1v2h-1zm1 -1h1v1h-1zm1 -2h1v2h-1zm1 -1h1v1h-1zm1 -2h1v2h-1zm1 -1h1v1h-1zm1 -2h1v2h-1zm1 -1h1v1h-1zm1 -2h1v2h-1zm1 -1h1v1h-1zm1 -2h1v2h-1zm1 -1h1v1h-1zm1 -2h1v2h-1zm1 -1h1v1h-1zm1 -2h1v2h-1zm1 -1h1v1h-1zm1 -2h1v2h-1zm1 -1h1v1h-1zm1 -2h1v2h-1zm1 -3h1v3h-1zm1 -4h1v4h-1zm1 -4h1v4h-1zm1 -5h1v5h-1zm1 -4h1v4h-1zm1 -4h1v4h-1zm1 -5h1v5h-1zm1 -4h1v4h-1zm1 -4h1v4h-1zm1 -3h1v3h-1zm1 -2h1v2h-1zm1 -2h1v2h-1zm1 -2h1v2h-1zm1 -2h1v2h-1zm1 -2h1v2h-1zm1 -2h1v2h-1zm1 -2h1v2h-1zm1 -2h1v2h-1zm1 -2h1v2h-1zm1 -2h1v2h-1zm1 -2h1v2h-1zm1 -2h1v2h-1zm1 -2h1v2h-1zm1 -2h1v2h-1zm1 -2h1v2h-1zm1 -2h1v2h-1zm1 -2h1v2h-1zm1 -2h1v2h-1zm1 -2h1v2h-1zm1 -2h1v2h-1zm1 -2h1v2h-1zm1 -2h1v2h-1zm1 -2h1v2h-1zm1 -2h1v2h-1zm1 -2h1v2h-1zm1 -2h1v2h-1zm1 -2h1v2h-1zm1 -2h1v2h-1zm1 -2h1v2h-1zm1 -2h1v2h-1zm1 -2h1v2h-1zm1 -2h1v2h-1zm1 -2h1v2h-1zm1 -2h1v2h-1zm1 -2h1v2h-1zm1 -2h1v2h-1zm1 -2h1v2h-1zm1 -2h1v2h-1zm1 -1h1v1h-1zm1 -2h1v2h-1zm1 -1h1v1h-1zm1 -1h1v1h-1zm1 -2h1v2h-1zm1 -1h1v1h-1zm1 -1h1v1h-1zm1 -1h1v1h-1zm1 -1h1v1h-1zm1 -1h1v1h-1zm1 -1h2v1h-2zm2 -1h1v1h-1zm1 -1h1v1h-1zm1 -1h1v1h-1zm1 -1h1v1h-1zm1 -1h1v1h-1zm1 -1h1v1h-1zm1 -1h1v1h-1zm1 -1h2v1h-2zm2 -1h1v1h-1zm1 -1h1v1h-1zm1 -1h1v1h-1zm1 -1h1v1h-1zm1 -2h1v2h-1zm1 -2h1v2h-1zm1 -2h1v2h-1zm1 -2h1v2h-1zm1 -2h1v2h-1zm1 -2h1v2h-1zm1 -2h1v2h-1zm1 -2h1v2h-1zm1 -2h1v2h-1zm1 -2h1v2h-1zm1 -2h1v2h-1zm1 -2h1v2h-1zm1 -2h1v2h-1zm1 -2h1v2h-1zm1 -1h1v1h-1zm1 -1h1v1h-1zm1 -1h1v1h-1zm1 -1h1v1h-1zm1 -2h1v2h-1zm1 -1h1v1h-1zm1 -1h1v1h-1zm1 -1h1v1h-1zm1 -1h1v1h-1zm1 -1h2v1h-2zm2 1h4v1h-4zm4 1h3v1h-3zm3 1h4v1h-4zm4 1h14v1h-14zm14 -1h14v1h-14zm14 -1h2v1h-2zm2 -1h2v1h-2zm2 -1h2v1h-2zm2 -1h2v1h-2zm2 -1h2v1h-2zm2 -1h4v1h-4zm4 -1h5v1h-5zm5 -1h6v1h-6zm6 -1h5v1h-5zm5 -1h4v1h-4zm4 1h2v1h-2zm2 1h2v1h-2zm2 1h2v1h-2zm1 1h1v1h-1zm1 1h1v2h-1zm1 2h1v2h-1zm1 2h1v2h-1zm1 2h1v2h-1zm1 2h1v2h-1zm1 2h1v2h-1zm1 2h1v2h-1zm1 2h1v1h-1zm1 1h1v2h-1zm1 2h1v1h-1zm1 1h1v1h-1zm1 1h1v2h-1zm1 2h1v1h-1zm1 1h1v1h-1zm1 1h1v2h-1zm1 2h2v1h-2zm2 1h3v1h-3zm3 1h3v1h-3zm3 1h3v1h-3zm3 1h3v1h-3zm3 1h4v1h-4zm4 -1h4v1h-4zm4 -1h3v1h-3zm3 -1h2v1h-2zm2 -1h1v1h-1zm1 -1h2v1h-2zm2 -1h1v1h-1zm1 -1h2v1h-2zm2 -1h2v1h-2zm2 1h4v1h-4zm4 1h3v1h-3zm3 1h4v1h-4zm4 1h2v1h-2zm2 -1h2v1h-2zm2 -1h1v1h-1zm1 -1h2v1h-2zm2 -1h1v1h-1zm1 -1h2v1h-2zm2 -1h5v1h-5zm5 -1h6v1h-6zm6 1h3v1h-3zm3 1h3v1h-3zm3 1h2v1h-2zm2 1h1v1h-1zm1 1h1v2h-1zm1 2h1v1h-1zm1 1h1v1h-1zm1 1h1v1h-1zm1 1h1v2h-1zm1 2h1v1h-1zm1 1h1v1h-1zm1 1h1v1h-1zm1 1h1v2h-1zm1 2h1v1h-1zm1 1h1v1h-1zm1 1h1v2h-1zm1 2h1v1h-1zm1 1h1v2h-1zm1 2h1v1h-1zm1 1h1v1h-1zm1 1h1v2h-1zm1 2h1v1h-1zm1 1h1v2h-1zm1 2h1v1h-1zm1 1h1v2h-1zm1 2h1v1h-1zm1 1h1v1h-1zm1 1h2v1h-2zm2 1h1v1h-1zm1 1h1v1h-1zm1 1h2v1h-2zm2 1h3v1h-3zm3 1h5v1h-5zm5 1h6v1h-6zm6 1h4v1h-4zm4 1h2v1h-2zm2 1h2v1h-2zm2 1h2v1h-2zm2 1h2v1h-2zm2 1h2v1h-2zm2 1h2v1h-2zm2 1h2v1h-2zm2 1h2v1h-2zm2 1h2v1h-2zm2 1h2v1h-2zm2 1h3v1h-3zm3 -1h2v1h-2zm2 -1h3v1h-3zm3 -1h2v1h-2zm2 -1h3v1h-3zm3 -1h2v1h-2zm2 -1h2v1h-2zm2 -1h1v1h-1zm1 -1h1v1h-1zm1 -1h1v1h-1zm1 -1h2v1h-2zm2 -1h1v1h-1zm1 -1h1v1h-1zm1 -1h1v1h-1zm1 -1h1v1h-1zm1 -1h1v1h-1zm1 -1h1v1h-1zm1 -1h1v1h-1zm1 -1h2v1h-2zm2 -1h1v1h-1zm1 -1h1v1h-1zm1 -1h1v1h-1zm1 -1h1v1h-1zm1 -2h1v2h-1zm1 -2h1v2h-1zm1 -2h1v2h-1zm1 -2h1v2h-1zm1 -2h1v2h-1zm1 -2h1v2h-1zm1 -2h1v2h-1zm1 -2h1v2h-1zm1 -2h1v2h-1zm1 -3h1v3h-1zm1 -2h1v2h-1zm1 -2h1v2h-1zm1 -3h1v3h-1zm1 -2h1v2h-1zm1 -2h1v2h-1zm1 0h34v1h-34zm34 -1h14v1h-14zm14 -1h2v1h-2zm2 -1h2v1h-2zm2 -1h1v1h-1zm1 -1h2v1h-2zm2 -1h2v1h-2zm2 -1h1v1h-1zm1 -1h2v1h-2zm2 -1h1v1h-1zm1 -1h2v1h-2zm2 -1h2v1h-2zm2 -1h1v1h-1zm1 -1h2v1h-2zm2 -1h2v1h-2zm2 -1h4v1h-4zm4 -1h6v1h-6zm6 1h4v1h-4zm4 1h4v1h-4zm4 1h4v1h-4zm4 1h5v1h-5zm5 1h10v1h-10zm10 -1h13v1h-13zm13 1h8v1h-8zm8 1h3v1h-3zm3 1h3v1h-3zm3 1h4v1h-4zm4 1h4v1h-4zm4 1h3v1h-3zm3 1h2v1h-2zm2 1h2v1h-2zm2 1h2v1h-2zm2 1h2v1h-2zm2 1h2v1h-2zm2 1h2v1h-2zm2 1h6v1h-6zm6 1h18v1h-18zm18 -1h4v1h-4zm4 -1h4v1h-4zm4 -1h2v1h-2zm2 -1h2v1h-2zm2 -1h1v1h-1zm1 -1h2v1h-2zm2 -1h1v1h-1zm1 -1h2v1h-2zm2 -1h1v1h-1zm1 -2h1v2h-1zm1 -1h1v1h-1zm1 -2h1v2h-1zm1 -1h1v1h-1zm1 -2h1v2h-1zm1 -1h1v1h-1zm1 -2h1v2h-1zm1 -1h1v1h-1zm1 -2h1v2h-1zm1 -1h1v1h-1zm1 -2h1v2h-1zm1 -1h1v1h-1zm1 -2h1v2h-1zm1 -1h1v1h-1zm1 -2h1v2h-1zm1 -2h1v2h-1zm1 -2h1v2h-1zm1 -2h1v2h-1zm1 -2h1v2h-1zm1 -2h1v2h-1zm1 -2h1v2h-1zm1 -2h1v2h-1zm1 -2h1v2h-1zm1 -1h1v1h-1zm1 -2h1v2h-1zm1 -1h1v1h-1zm1 -1h1v1h-1zm1 -2h1v2h-1zm1 -1h1v1h-1zm1 -1h1v1h-1zm1 -2h1v2h-1zm1 -1h1v1h-1zm1 1h2v1h-2zm2 1h1v1h-1zm1 1h2v1h-2zm2 1h2v1h-2zm2 1h1v1h-1zm1 1h1v1h-1zm1 1h1v2h-1zm1 2h1v1h-1zm1 1h1v1h-1zm1 1h1v1h-1zm1 1h1v2h-1zm1 2h1v1h-1zm1 1h4v1h-4zm4 1h4v1h-4zm4 -1h2v1h-2zm2 -1h2v1h-2zm2 -1h2v1h-2zm2 -1h2v1h-2zm2 -1h2v1h-2zm2 -1h2v1h-2zm2 -1h2v1h-2zm2 -1h2v1h-2zm2 -1h2v1h-2zm2 -1h1v1h-1zm1 -1h1v1h-1zm1 -1h1v1h-1zm1 -2h1v2h-1zm1 -1h1v1h-1zm1 -1h1v1h-1zm1 -1h1v1h-1zm1 -1h1v1h-1zm1 -1h1v1h-1zm1 -2h1v2h-1zm1 -1h1v1h-1zm1 -1h1v1h-1zm1 -1h1v1h-1zm1 -2h1v2h-1zm1 -1h1v1h-1zm1 -1h3v1h-3zm3 -1h6v1h-6zm6 -1h5v1h-5zm5 -1h5v1h-5zm5 -1h6v1h-6zm6 -1h6v1h-6zm6 -1h7v1h-7zm7 -1h8v1h-8zm8 -1h7v1h-7zm7 -1h4v1h-4zm4 1h1v1h-1zm1 1h1v1h-1zm1 1h1v1h-1zm1 1h1v1h-1zm1 1h1v1h-1zm1 1h4v1h-4zm4 1h14v1h-14zm14 -1h2v1h-2zm2 -1h2v1h-2zm2 -1h2v1h-2zm2 -1h2v1h-2zm2 -1h1v1h-1zm1 -1h1v1h-1zm1 -1h1v1h-1zm1 -1h2v1h-2zm2 -1h1v1h-1zm1 -1h1v1h-1zm1 -1h1v1h-1zm1 -1h1v1h-1zm1 -2h1v2h-1zm1 -1h1v1h-1zm1 -1h1v1h-1zm1 -1h1v1h-1zm1 -2h1v2h-1zm1 -1h1v1h-1zm1 -1h4v1h-4zm4 -1h5v1h-5zm5 -1h2v1h-2zm2 -1h1v1h-1zm1 -1h2v1h-2zm2 -1h2v1h-2zm2 -1h2v1h-2zm2 -1h2v1h-2zm2 -1h3v1h-3zm3 -1h3v1h-3zm3 1h2v1h-2zm2 1h3v1h-3zm3 1h3v1h-3zm3 -1h4v1h-4zm4 -1h4v1h-4zm4 1h2v1h-2zm2 1h2v1h-2zm2 1h3v1h-3zm3 1h4v1h-4zm4 1h2v1h-2zm2 1h2v1h-2zm2 1h2v1h-2zm2 1h1v1h-1zm1 1h2v1h-2zm2 1h2v1h-2zm2 1h4v1h-4zm4 1h5v1h-5zm5 -1h1v1h-1zm1 -1h1v1h-1zm1 -1h2v1h-2zm2 -1h1v1h-1zm1 -1h2v1h-2zm2 -1h2v1h-2zm2 -1h4v1h-4zm4 -1h4v1h-4zm4 -1h4v1h-4zm4 -1h3v1h-3zm3 -1h2v1h-2zm2 -1h2v1h-2zm2 -1h2v1h-2zm2 -1h2v1h-2zm2 -1h1v1h-1zm1 -1h2v1h-2zm2 -1h1v1h-1zm1 -1h1v1h-1zm1 -1h2v1h-2zm2 -2h1v2h-1zm1 -3h1v3h-1zm1 -4h1v4h-1zm1 -3h1v3h-1zm1 -3h1v3h-1zm1 -3h1v3h-1zm1 -3h1v3h-1zm1 -3h1v3h-1zm1 -2h1v2h-1zm1 -2h1v2h-1zm1 -2h1v2h-1zm1 -2h1v2h-1zm1 -2h1v2h-1zm1 -2h1v2h-1zm1 -2h1v2h-1zm1 -2h1v2h-1zm1 -2h1v2h-1zm1 -2h1v2h-1zm1 -2h1v2h-1zm1 -2h1v2h-1zm1 -2h1v2h-1zm1 -2h1v2h-1zm1 -2h1v2h-1zm1 -2h1v2h-1zm1 -2h1v2h-1zm1 -2h1v2h-1zm1 -2h1v2h-1zm1 -2h1v2h-1zm1 -2h1v2h-1zm1 -1h1v1h-1zm1 -2h1v2h-1zm1 -2h1v2h-1zm1 -1h1v1h-1zm1 -2h1v2h-1zm1 -2h1v2h-1zm1 -2h1v2h-1zm1 -1h1v1h-1zm1 -1h1v1h-1zm1 -2h1v2h-1zm1 -1h1v1h-1zm1 -1h1v1h-1zm1 -1h1v1h-1zm1 -2h1v2h-1zm1 -1h1v1h-1zm1 -1h1v1h-1zm1 -2h1v2h-1zm1 -1h1v1h-1zm1 -1h1v1h-1zm1 -1h1v1h-1zm1 -2h1v2h-1zm1 -1h1v1h-1zm1 -1h1v1h-1zm1 -2h1v2h-1zm1 -1h1v1h-1zm1 -1h1v1h-1zm1 -2h1v2h-1zm1 -1h1v1h-1zm1 -1h1v1h-1zm1 -1h1v1h-1zm1 -1h1v1h-1zm1 -1h1v1h-1zm1 -1h1v1h-1zm1 -2h1v2h-1zm1 -1h1v1h-1zm1 -1h1v1h-1zm1 -1h1v1h-1zm1 -1h1v1h-1zm1 -1h1v1h-1zm1 -2h1v2h-1zm1 -1h1v1h-1zm1 -1h1v1h-1zm1 -2h1v2h-1zm1 -1h8v1h-8zm8 -1h12v1h-12zm12 -1h8v1h-8zm8 -1h5v1h-5zm5 1h1v1h-1zm1 1h1v1h-1zm1 1h1v1h-1zm1 1h1v2h-1zm1 2h1v1h-1zm1 1h1v1h-1zm1 1h1v1h-1zm1 1h1v1h-1zm1 1h1v1h-1zm1 1h1v1h-1zm1 1h1v1h-1zm1 1h1v1h-1zm1 1h1v1h-1zm1 1h1v1h-1zm1 1h1v1h-1zm1 1h1v1h-1zm1 1h1v1h-1zm1 1h2v1h-2zm2 1h2v1h-2zm2 1h2v1h-2zm2 1h2v1h-2zm2 1h2v1h-2zm2 1h3v1h-3zm3 1h6v1h-6zm6 1h8v1h-8zm8 1h6v1h-6zm6 1h2v1h-2zm2 1h2v1h-2zm2 1h3v1h-3zm3 1h2v1h-2zm2 1h2v1h-2zm2 1h3v1h-3zm3 1h2v1h-2zm2 1h2v1h-2zm2 1h2v1h-2zm2 1h2v1h-2zm2 1h2v1h-2zm2 1h2v1h-2zm2 1h2v1h-2zm2 1h9v1h-9zm9 1h8v1h-8zm8 1h2v1h-2zm2 1h1v1h-1zm1 1h2v1h-2zm2 1h1v1h-1zm1 1h2v1h-2zm2 1h1v1h-1zm1 1h2v1h-2zm2 1h1v1h-1zm1 1h1v1h-1zm1 1h2v1h-2zm2 1h1v1h-1zm1 1h1v1h-1zm1 1h2v1h-2zm2 1h1v1h-1zm1 1h1v1h-1zm1 1h2v1h-2zm2 1h1v1h-1zm1 1h2v1h-2zm2 1h2v1h-2zm2 1h1v1h-1zm1 1h2v1h-2zm2 1h2v1h-2zm2 1h2v1h-2zm2 1h1v1h-1zm1 1h1v1h-1zm1 1h1v1h-1zm1 1h1v1h-1zm1 1h1v1h-1zm1 1h1v1h-1zm1 1h1v1h-1zm1 1h2v1h-2zm2 1h1v1h-1zm1 1h1v1h-1zm1 1h1v1h-1zm1 1h1v1h-1zm1 1h1v1h-1zm1 1h1v1h-1zm1 1h1v1h-1zm1 1h1v1h-1zm1 1h2v1h-2zm2 1h1v1h-1zm1 1h1v1h-1zm1 1h1v1h-1zm1 1h1v1h-1zm1 1h1v1h-1zm1 1h1v1h-1zm1 1h2v1h-2zm2 1h1v1h-1zm1 1h1v1h-1zm1 1h4v1h-4zm4 -1h6v1h-6zm6 -1h4v1h-4zm4 -1h2v1h-2zm2 -1h2v1h-2zm2 -1h2v1h-2zm2 -1h2v1h-2zm2 -1h2v1h-2zm2 -1h2v1h-2zm2 -1h1v1h-1zm1 -1h1v1h-1zm1 -1h1v1h-1zm1 -1h1v1h-1zm1 -1h1v1h-1zm1 -1h1v1h-1zm1 -1h1v1h-1zm1 -1h1v1h-1zm1 -1h1v1h-1zm1 -1h1v1h-1zm1 -1h1v1h-1zm1 -1h1v1h-1zm1 -1h2v1h-2zm2 -1h1v1h-1zm1 -1h1v1h-1zm1 -1h1v1h-1zm1 -1h1v1h-1zm1 -1h2v1h-2zm2 -1h1v1h-1zm1 -1h1v1h-1zm1 -1h1v1h-1z" fill="#3cb371"/>
</g>
</g>
<rect x="1146" y="147" width="10" height="1" fill="#ff0000" shape-rendering="crispEdges"/>
<rect x="1084.5" y="138.5" width="62.0" height="18.0" fill="#fff" stroke="#ff0000" stroke-width="1" shape-rendering="crispEdges"/>
<text x="1087.3" y="153.5" font-size="15.7" fill="#ff0000" textLength="56.7" lengthAdjust="spacingAndGlyphs">111.106</text>
<rect x="1244" y="139" width="11" height="1" fill="#ff0000" shape-rendering="crispEdges"/>
<rect x="1251.5" y="137.5" width="2" height="3" fill="#fff" stroke="#ff0000" stroke-width="1" shape-rendering="crispEdges"/>
<rect x="1254.5" y="127.5" width="74.0" height="24.0" fill="#fff" stroke="#ff0000" stroke-width="1" shape-rendering="crispEdges"/>
<text x="1257.4" y="148.5" font-size="22.4" fill="#ff0000" stroke="#ff0000" stroke-width="0.4" textLength="68.6" lengthAdjust="spacingAndGlyphs">111.150</text>
<rect x="1313" y="260" width="11" height="1" fill="#ff0000" shape-rendering="crispEdges"/>
<rect x="1252.5" y="251.5" width="61.0" height="18.0" fill="#fff" stroke="#ff0000" stroke-width="1" shape-rendering="crispEdges"/>
<text x="1255.0" y="266.5" font-size="15.7" fill="#ff0000" textLength="56.5" lengthAdjust="spacingAndGlyphs">110.418</text>
<rect x="1002" y="378" width="10" height="1" fill="#ff0000" shape-rendering="crispEdges"/>
<rect x="940.5" y="369.5" width="62.0" height="18.0" fill="#fff" stroke="#ff0000" stroke-width="1" shape-rendering="crispEdges"/>
<text x="943.0" y="384.5" font-size="15.7" fill="#ff0000" textLength="57.0" lengthAdjust="spacingAndGlyphs">109.706</text>
<rect x="1434" y="57" width="9" height="1" fill="#ff0000" shape-rendering="crispEdges"/>
<rect x="1372.5" y="48.5" width="62.0" height="18.0" fill="#fff" stroke="#ff0000" stroke-width="1" shape-rendering="crispEdges"/>
<text x="1375.0" y="63.5" font-size="15.7" fill="#ff0000" textLength="57.0" lengthAdjust="spacingAndGlyphs">111.647</text>
<g shape-rendering="crispEdges" clip-path="url(#cMain)">
<path d="M3 512h1v19h-1zM11 517h1v32h-1zM19 523h1v37h-1zM27 497h1v52h-1zM35 494h1v16h-1zM43 504h1v8h-1zM51 497h1v25h-1zM59 518h1v28h-1zM67 498h1v41h-1zM75 505h1v40h-1zM83 523h1v12h-1zM91 518h1v21h-1zM99 520h1v28h-1zM107 530h1v39h-1zM115 501h1v41h-1zM123 484h1v39h-1zM131 493h1v53h-1zM139 525h1v16h-1zM147 524h1v18h-1zM155 511h1v26h-1zM163 506h1v24h-1zM171 471h1v47h-1zM179 466h1v20h-1zM187 466h1v11h-1zM195 461h1v29h-1zM203 470h1v20h-1zM211 453h1v34h-1zM219 354h1v106h-1zM227 343h1v28h-1zM235 353h1v18h-1zM243 337h1v25h-1zM251 338h1v23h-1zM259 316h1v49h-1zM267 297h1v65h-1zM275 356h1v18h-1zM283 341h1v13h-1zM291 341h1v49h-1zM299 364h1v26h-1zM307 372h1v18h-1zM315 383h1v55h-1zM323 404h1v16h-1zM331 399h1v17h-1zM339 405h1v37h-1zM347 406h1v21h-1zM355 383h1v33h-1zM363 379h1v61h-1zM371 415h1v17h-1zM379 411h1v10h-1zM387 387h1v30h-1zM395 366h1v31h-1zM403 349h1v24h-1zM411 364h1v39h-1zM419 390h1v19h-1zM427 394h1v12h-1zM435 381h1v22h-1zM443 357h1v28h-1zM451 356h1v37h-1zM459 279h1v91h-1zM467 277h1v15h-1zM475 276h1v14h-1zM483 276h1v32h-1zM491 283h1v20h-1zM499 297h1v19h-1zM507 310h1v126h-1zM515 407h1v17h-1zM523 390h1v12h-1zM531 390h1v28h-1zM539 397h1v35h-1zM547 413h1v42h-1zM555 435h1v30h-1zM563 446h1v12h-1zM571 449h1v8h-1zM579 422h1v41h-1zM587 407h1v25h-1zM595 403h1v31h-1zM603 411h1v40h-1zM611 410h1v11h-1zM619 410h1v11h-1zM627 414h1v15h-1zM635 412h1v29h-1zM643 411h1v27h-1zM651 388h1v70h-1zM659 386h1v18h-1zM667 386h1v13h-1zM675 383h1v28h-1zM683 400h1v22h-1zM691 402h1v19h-1zM699 364h1v63h-1zM707 413h1v31h-1zM715 428h1v18h-1zM723 420h1v19h-1zM731 416h1v28h-1zM739 399h1v30h-1zM747 356h1v48h-1zM755 368h1v17h-1zM763 374h1v6h-1zM771 358h1v24h-1zM779 366h1v24h-1zM787 370h1v20h-1zM795 330h1v48h-1zM803 314h1v19h-1zM811 315h1v12h-1zM819 305h1v22h-1zM827 312h1v21h-1zM835 303h1v26h-1zM843 304h1v24h-1zM851 304h1v19h-1zM859 314h1v14h-1zM867 307h1v13h-1zM875 309h1v39h-1zM883 333h1v14h-1zM891 334h1v29h-1zM899 224h1v131h-1zM907 198h1v30h-1zM915 195h1v36h-1zM923 204h1v30h-1zM931 203h1v38h-1zM939 212h1v88h-1zM947 277h1v27h-1zM955 276h1v17h-1zM963 276h1v30h-1zM971 290h1v51h-1zM979 292h1v43h-1zM987 250h1v74h-1zM995 287h1v26h-1zM1003 292h1v12h-1zM1011 288h1v90h-1zM1019 319h1v56h-1zM1027 305h1v40h-1zM1035 275h1v44h-1zM1043 279h1v29h-1zM1051 269h1v18h-1zM1059 252h1v45h-1zM1067 242h1v30h-1zM1075 243h1v25h-1zM1083 200h1v47h-1zM1091 204h1v30h-1zM1099 218h1v12h-1zM1107 189h1v36h-1zM1115 179h1v28h-1zM1123 148h1v74h-1zM1131 180h1v39h-1zM1139 163h1v26h-1zM1147 160h1v15h-1zM1155 146h1v27h-1zM1163 162h1v44h-1zM1171 179h1v27h-1zM1179 180h1v37h-1zM1187 180h1v14h-1zM1195 177h1v16h-1zM1203 168h1v24h-1zM1211 185h1v24h-1zM1219 199h1v21h-1zM1227 198h1v54h-1zM1235 185h1v17h-1zM1243 192h1v10h-1zM1251 193h1v33h-1zM1259 210h1v19h-1zM1267 174h1v52h-1zM1275 170h1v76h-1zM1283 230h1v19h-1zM1291 226h1v12h-1zM1299 225h1v34h-1zM1307 216h1v31h-1zM1315 205h1v42h-1zM1323 209h1v51h-1zM1331 238h1v12h-1zM1339 238h1v17h-1zM1347 232h1v26h-1zM1355 238h1v20h-1zM1363 237h1v25h-1zM1371 154h1v92h-1zM1379 145h1v21h-1zM1387 142h1v13h-1zM1395 140h1v22h-1zM1403 120h1v32h-1zM1411 62h1v59h-1zM1419 64h1v45h-1zM1427 60h1v17h-1zM1435 70h1v10h-1zM1443 60h1v14h-1zM1451 57h1v15h-1zM1459 68h1v36h-1zM1467 65h1v73h-1zM1475 116h1v58h-1z" fill="#000"/>
<path d="M1 518h5v2h-5zM9 518h5v28h-5zM33 504h5v5h-5zM41 504h5v6h-5zM49 509h5v10h-5zM57 518h5v18h-5zM73 507h5v20h-5zM81 526h5v7h-5zM97 521h5v24h-5zM129 502h5v37h-5zM145 527h5v2h-5zM193 467h5v19h-5zM225 360h5v7h-5zM249 345h5v4h-5zM265 323h5v33h-5zM273 356h5v6h-5zM289 346h5v36h-5zM305 377h5v10h-5zM313 385h5v32h-5zM329 404h5v11h-5zM337 414h5v8h-5zM361 390h5v35h-5zM409 364h5v33h-5zM417 396h5v9h-5zM449 357h5v8h-5zM465 283h5v3h-5zM481 282h5v10h-5zM489 292h5v8h-5zM497 300h5v15h-5zM505 313h5v111h-5zM529 393h5v10h-5zM537 402h5v25h-5zM545 425h5v21h-5zM553 445h5v8h-5zM561 452h5v4h-5zM593 408h5v20h-5zM609 417h5v2h-5zM617 417h5v2h-5zM625 415h5v2h-5zM633 416h5v5h-5zM641 421h5v11h-5zM657 392h5v2h-5zM665 391h5v4h-5zM673 393h5v12h-5zM681 404h5v2h-5zM689 404h5v6h-5zM697 407h5v8h-5zM705 413h5v31h-5zM753 371h5v9h-5zM761 376h5v2h-5zM777 368h5v14h-5zM809 322h5v3h-5zM825 316h5v7h-5zM841 309h5v2h-5zM849 310h5v13h-5zM873 314h5v27h-5zM881 340h5v2h-5zM889 340h5v12h-5zM913 204h5v8h-5zM921 211h5v23h-5zM937 214h5v71h-5zM945 284h5v3h-5zM961 276h5v23h-5zM969 298h5v36h-5zM993 295h5v11h-5zM1009 297h5v65h-5zM1089 206h5v22h-5zM1121 186h5v3h-5zM1129 188h5v2h-5zM1153 162h5v2h-5zM1161 163h5v23h-5zM1169 185h5v12h-5zM1185 181h5v12h-5zM1201 178h5v11h-5zM1209 189h5v18h-5zM1217 206h5v4h-5zM1249 197h5v29h-5zM1257 224h5v2h-5zM1273 176h5v70h-5zM1289 229h5v2h-5zM1297 230h5v16h-5zM1313 217h5v12h-5zM1321 230h5v11h-5zM1329 241h5v1h-5zM1337 241h5v2h-5zM1345 242h5v8h-5zM1361 240h5v4h-5zM1425 72h5v2h-5zM1441 70h5v2h-5zM1449 71h5v2h-5zM1457 71h5v22h-5zM1465 92h5v26h-5zM1473 117h5v40h-5z" fill="#000"/>
<path d="M17 524h5v22h-5zM25 505h5v18h-5zM65 507h5v29h-5zM89 520h5v12h-5zM105 540h5v4h-5zM113 516h5v26h-5zM121 502h5v16h-5zM137 530h5v9h-5zM153 524h5v5h-5zM161 511h5v13h-5zM169 478h5v33h-5zM177 472h5v6h-5zM185 467h5v4h-5zM201 480h5v7h-5zM209 457h5v23h-5zM217 360h5v97h-5zM233 362h5v3h-5zM241 345h5v17h-5zM257 323h5v25h-5zM281 345h5v8h-5zM297 378h5v4h-5zM321 404h5v12h-5zM345 416h5v6h-5zM353 391h5v25h-5zM369 418h5v6h-5zM377 413h5v4h-5zM385 393h5v20h-5zM393 368h5v24h-5zM401 365h5v5h-5zM425 398h5v7h-5zM433 384h5v14h-5zM441 357h5v27h-5zM457 283h5v81h-5zM473 282h5v3h-5zM513 412h5v12h-5zM521 393h5v7h-5zM569 450h5v6h-5zM577 427h5v23h-5zM585 409h5v18h-5zM601 419h5v9h-5zM649 393h5v39h-5zM713 430h5v12h-5zM721 430h5v3h-5zM729 424h5v5h-5zM737 402h5v22h-5zM745 372h5v31h-5zM769 369h5v8h-5zM785 370h5v12h-5zM793 332h5v38h-5zM801 322h5v10h-5zM817 316h5v8h-5zM833 311h5v11h-5zM857 317h5v7h-5zM865 314h5v4h-5zM897 225h5v127h-5zM905 203h5v22h-5zM929 214h5v20h-5zM953 276h5v10h-5zM977 310h5v24h-5zM985 295h5v15h-5zM1001 298h5v5h-5zM1017 325h5v37h-5zM1025 316h5v8h-5zM1033 293h5v21h-5zM1041 285h5v9h-5zM1049 269h5v15h-5zM1057 261h5v7h-5zM1065 251h5v10h-5zM1073 244h5v7h-5zM1081 207h5v37h-5zM1097 223h5v5h-5zM1105 206h5v18h-5zM1113 185h5v21h-5zM1137 171h5v18h-5zM1145 163h5v8h-5zM1177 182h5v14h-5zM1193 178h5v14h-5zM1225 202h5v8h-5zM1233 193h5v9h-5zM1241 197h5v4h-5zM1265 176h5v48h-5zM1281 230h5v16h-5zM1305 217h5v29h-5zM1353 242h5v8h-5zM1369 158h5v86h-5zM1377 152h5v6h-5zM1385 144h5v9h-5zM1393 143h5v7h-5zM1401 120h5v31h-5zM1409 88h5v33h-5zM1417 73h5v15h-5zM1433 72h5v3h-5z" fill="#000"/>
<path d="M18 525h3v20h-3zM26 506h3v16h-3zM66 508h3v27h-3zM90 521h3v10h-3zM106 541h3v2h-3zM114 517h3v24h-3zM122 503h3v14h-3zM138 531h3v7h-3zM154 525h3v3h-3zM162 512h3v11h-3zM170 479h3v31h-3zM178 473h3v4h-3zM186 468h3v2h-3zM202 481h3v5h-3zM210 458h3v21h-3zM218 361h3v95h-3zM234 363h3v1h-3zM242 346h3v15h-3zM258 324h3v23h-3zM282 346h3v6h-3zM298 379h3v2h-3zM322 405h3v10h-3zM346 417h3v4h-3zM354 392h3v23h-3zM370 419h3v4h-3zM378 414h3v2h-3zM386 394h3v18h-3zM394 369h3v22h-3zM402 366h3v3h-3zM426 399h3v5h-3zM434 385h3v12h-3zM442 358h3v25h-3zM458 284h3v79h-3zM474 283h3v1h-3zM514 413h3v10h-3zM522 394h3v5h-3zM570 451h3v4h-3zM578 428h3v21h-3zM586 410h3v16h-3zM602 420h3v7h-3zM650 394h3v37h-3zM714 431h3v10h-3zM722 431h3v1h-3zM730 425h3v3h-3zM738 403h3v20h-3zM746 373h3v29h-3zM770 370h3v6h-3zM786 371h3v10h-3zM794 333h3v36h-3zM802 323h3v8h-3zM818 317h3v6h-3zM834 312h3v9h-3zM858 318h3v5h-3zM866 315h3v2h-3zM898 226h3v125h-3zM906 204h3v20h-3zM930 215h3v18h-3zM954 277h3v8h-3zM978 311h3v22h-3zM986 296h3v13h-3zM1002 299h3v3h-3zM1018 326h3v35h-3zM1026 317h3v6h-3zM1034 294h3v19h-3zM1042 286h3v7h-3zM1050 270h3v13h-3zM1058 262h3v5h-3zM1066 252h3v8h-3zM1074 245h3v5h-3zM1082 208h3v35h-3zM1098 224h3v3h-3zM1106 207h3v16h-3zM1114 186h3v19h-3zM1138 172h3v16h-3zM1146 164h3v6h-3zM1178 183h3v12h-3zM1194 179h3v12h-3zM1226 203h3v6h-3zM1234 194h3v7h-3zM1242 198h3v2h-3zM1266 177h3v46h-3zM1282 231h3v14h-3zM1306 218h3v27h-3zM1354 243h3v6h-3zM1370 159h3v84h-3zM1378 153h3v4h-3zM1386 145h3v7h-3zM1394 144h3v5h-3zM1402 121h3v29h-3zM1410 89h3v31h-3zM1418 74h3v13h-3zM1434 73h3v1h-3z" fill="#fff"/>
</g>
<g>
<line x1="1347.0" y1="250.5" x2="1438.1" y2="58.3" stroke="#ff0000" stroke-width="3.3"/><polygon points="1441.7,50.6 1441.5,62.1 1433.0,58.1" fill="#ff0000"/>
<line x1="1441.7" y1="50.6" x2="1491.6" y2="164.2" stroke="#ff0000" stroke-width="3.3"/><polygon points="1495.0,172.0 1486.5,164.3 1495.1,160.5" fill="#ff0000"/>
<line x1="1361.0" y1="723.6" x2="1451.8" y2="604.4" stroke="#ff0000" stroke-width="3.3"/><polygon points="1457.0,597.6 1454.4,608.8 1446.9,603.1" fill="#ff0000"/>
<line x1="1457.0" y1="597.6" x2="1493.3" y2="652.9" stroke="#ff0000" stroke-width="3.3"/><polygon points="1498.0,660.0 1488.3,653.8 1496.2,648.6" fill="#ff0000"/>
<line x1="1355.0" y1="850.0" x2="1408.9" y2="799.4" stroke="#ff0000" stroke-width="3.2"/><polygon points="1414.0,794.6 1410.3,803.8 1404.6,797.7" fill="#ff0000"/>
<line x1="1414.0" y1="794.6" x2="1440.0" y2="796.5" stroke="#ff0000" stroke-width="3.2"/><polygon points="1447.0,797.0 1437.7,800.5 1438.3,792.2" fill="#ff0000"/>
<line x1="1447.0" y1="797.0" x2="1474.6" y2="837.2" stroke="#ff0000" stroke-width="3.2"/><polygon points="1478.6,843.0 1470.0,838.0 1477.0,833.2" fill="#ff0000"/>
</g>
<rect x="1391" y="137" width="138" height="10" fill="#00ff00" shape-rendering="crispEdges"/>
<path d="M1585 151v-1h3v1" fill="none" stroke="#ff40ff" stroke-width="1" shape-rendering="crispEdges" transform="translate(0.5 0.5)"/>
<rect x="1532.500" y="151.500" width="110" height="24" fill="none" stroke="#303030" stroke-width="1" shape-rendering="crispEdges"/>
<text x="1534" y="170.5" font-size="20.5" fill="#00ff00" textLength="106" lengthAdjust="spacingAndGlyphs" style="font-family:'Liberation Serif','Noto Serif CJK SC',serif">多空转折点</text>
<g shape-rendering="crispEdges" clip-path="url(#cMacd)">
<path d="M3 705h1v35h-1zM11 705h1v41h-1zM19 705h1v40h-1zM27 705h1v36h-1zM35 705h1v33h-1zM43 705h1v30h-1zM51 705h1v29h-1zM59 705h1v32h-1zM67 705h1v28h-1zM75 705h1v28h-1zM83 705h1v29h-1zM91 705h1v28h-1zM99 705h1v30h-1zM107 705h1v32h-1zM115 705h1v28h-1zM123 705h1v21h-1zM131 705h1v23h-1zM139 705h1v23h-1zM147 705h1v22h-1zM155 705h1v20h-1zM163 705h1v16h-1zM171 705h1v6h-1zM179 702h1v4h-1zM187 694h1v12h-1zM195 691h1v15h-1zM203 688h1v18h-1zM211 682h1v24h-1zM219 658h1v48h-1zM227 640h1v66h-1zM235 627h1v79h-1zM243 614h1v92h-1zM251 605h1v101h-1zM259 595h1v111h-1zM267 594h1v112h-1zM275 596h1v110h-1zM283 596h1v110h-1zM291 604h1v102h-1zM299 611h1v95h-1zM307 619h1v87h-1zM315 632h1v74h-1zM323 641h1v65h-1zM331 651h1v55h-1zM339 660h1v46h-1zM347 667h1v39h-1zM355 668h1v38h-1zM363 676h1v30h-1zM371 681h1v25h-1zM379 684h1v22h-1zM387 683h1v23h-1zM395 678h1v28h-1zM403 674h1v32h-1zM411 676h1v30h-1zM419 680h1v26h-1zM427 682h1v24h-1zM435 682h1v24h-1zM443 676h1v30h-1zM451 674h1v32h-1zM459 656h1v50h-1zM467 643h1v63h-1zM475 633h1v73h-1zM483 628h1v78h-1zM491 626h1v80h-1zM499 629h1v77h-1zM507 653h1v53h-1zM515 671h1v35h-1zM523 681h1v25h-1zM531 692h1v14h-1zM539 705h1v1h-1zM547 705h1v14h-1zM555 705h1v26h-1zM563 705h1v36h-1zM571 705h1v42h-1zM579 705h1v42h-1zM587 705h1v37h-1zM595 705h1v38h-1zM603 705h1v35h-1zM611 705h1v33h-1zM619 705h1v31h-1zM627 705h1v28h-1zM635 705h1v27h-1zM643 705h1v28h-1zM651 705h1v21h-1zM659 705h1v15h-1zM667 705h1v10h-1zM675 705h1v9h-1zM683 705h1v7h-1zM691 705h1v7h-1zM699 705h1v8h-1zM707 705h1v14h-1zM715 705h1v16h-1zM723 705h1v18h-1zM731 705h1v18h-1zM739 705h1v12h-1zM747 705h1v2h-1zM755 702h1v4h-1zM763 696h1v10h-1zM771 691h1v15h-1zM779 689h1v17h-1zM787 685h1v21h-1zM795 675h1v31h-1zM803 666h1v40h-1zM811 659h1v47h-1zM819 653h1v53h-1zM827 650h1v56h-1zM835 646h1v60h-1zM843 643h1v63h-1zM851 644h1v62h-1zM859 645h1v61h-1zM867 645h1v61h-1zM875 652h1v54h-1zM883 657h1v49h-1zM891 664h1v42h-1zM899 645h1v61h-1zM907 627h1v79h-1zM915 615h1v91h-1zM923 611h1v95h-1zM931 605h1v101h-1zM939 615h1v91h-1zM947 625h1v81h-1zM955 631h1v75h-1zM963 642h1v64h-1zM971 657h1v49h-1zM979 666h1v40h-1zM987 670h1v36h-1zM995 675h1v31h-1zM1003 678h1v28h-1zM1011 694h1v12h-1zM1019 699h1v7h-1zM1027 701h1v5h-1zM1035 698h1v8h-1zM1043 694h1v12h-1zM1051 689h1v17h-1zM1059 682h1v24h-1zM1067 676h1v30h-1zM1075 670h1v36h-1zM1083 658h1v48h-1zM1091 654h1v52h-1zM1099 650h1v56h-1zM1107 644h1v62h-1zM1115 636h1v70h-1zM1123 631h1v75h-1zM1131 628h1v78h-1zM1139 623h1v83h-1zM1147 619h1v87h-1zM1155 617h1v89h-1zM1163 620h1v86h-1zM1171 627h1v79h-1zM1179 628h1v78h-1zM1187 633h1v73h-1zM1195 635h1v71h-1zM1203 640h1v66h-1zM1211 648h1v58h-1zM1219 655h1v51h-1zM1227 660h1v46h-1zM1235 662h1v44h-1zM1243 665h1v41h-1zM1251 674h1v32h-1zM1259 681h1v25h-1zM1267 677h1v29h-1zM1275 688h1v18h-1zM1283 694h1v12h-1zM1291 699h1v7h-1zM1307 705h1v1h-1zM1315 705h1v2h-1zM1323 705h1v7h-1zM1331 705h1v9h-1zM1339 705h1v11h-1zM1347 705h1v16h-1zM1355 705h1v17h-1zM1363 705h1v16h-1zM1371 705h1v3h-1zM1379 692h1v14h-1zM1387 679h1v27h-1zM1395 671h1v35h-1zM1403 659h1v47h-1zM1411 644h1v62h-1zM1419 629h1v77h-1zM1427 619h1v87h-1zM1435 612h1v94h-1zM1443 607h1v99h-1zM1451 604h1v102h-1zM1459 603h1v103h-1zM1467 614h1v92h-1zM1475 632h1v74h-1z" fill="#c0c0c0"/>
<path d="m0 729h3v1h-3zm6 1h3v1h-3zm6 1h3v1h-3zm6 1h1v1h-1zm1 1h2v1h-2zm5 2h1v1h-1zm1 1h2v1h-2zm5 1h2v1h-2zm2 1h1v1h-1zm4 0h3v1h-3zm6 1h3v1h-3zm6 0h3v1h-3zm6 0h3v1h-3zm6 0h3v1h-3zm6 -1h3v1h-3zm6 -1h3v1h-3zm6 -1h3v1h-3zm6 0h1v1h-1zm1 -1h2v1h-2zm5 0h3v1h-3zm6 -1h3v1h-3zm6 0h3v1h-3zm6 0h2v1h-2zm2 -1h1v1h-1zm4 0h3v1h-3zm6 0h3v1h-3zm6 -1h3v1h-3zm6 0h3v1h-3zm6 -1h3v1h-3zm6 0h1v1h-1zm1 -1h2v1h-2zm5 0h3v1h-3zm6 -1h3v1h-3zm6 -1h3v1h-3zm6 -2h3v1h-3zm6 -2h1v1h-1zm1 -1h2v1h-2zm5 -2h1v1h-1zm1 -1h2v1h-2zm5 -2h1v1h-1zm1 -1h2v1h-2zm5 -2h1v1h-1zm1 -1h2v1h-2zm5 -3h2v1h-2zm2 -1h1v1h-1zm4 -2h2v1h-2zm2 -1h1v1h-1zm4 -3h1v1h-1zm1 -1h1v1h-1zm1 -1h1v1h-1zm4 -3h1v1h-1zm1 -1h2v1h-2zm4 -4h1v1h-1zm1 -1h1v1h-1zm1 -1h1v1h-1zm3 -4h1v1h-1zm1 -2h1v2h-1zm3 -4h1v1h-1zm1 -1h1v1h-1zm1 -1h1v1h-1zm3 -5h1v2h-1zm1 -1h1v1h-1zm3 -4h1v1h-1zm1 -1h1v1h-1zm1 -1h1v1h-1zm3 -4h1v1h-1zm1 -1h1v1h-1zm1 -1h1v1h-1zm3 -4h1v1h-1zm1 -2h1v2h-1zm3 -4h1v1h-1zm1 -1h1v1h-1zm1 -1h1v1h-1zm3 -4h1v1h-1zm1 -2h1v2h-1zm3 -4h1v1h-1zm1 -1h1v1h-1zm1 -1h1v1h-1zm3 -5h1v2h-1zm1 -1h1v1h-1zm3 -4h1v1h-1zm1 -1h1v1h-1zm1 -1h1v1h-1zm3 -4h1v1h-1zm1 -1h1v1h-1zm1 -1h1v1h-1zm3 -4h1v1h-1zm1 -1h1v1h-1zm1 -1h1v1h-1zm4 -3h1v1h-1zm1 -1h1v1h-1zm1 -1h1v1h-1zm4 -2h1v1h-1zm1 -1h2v1h-2zm5 -1h2v1h-2zm2 -1h1v1h-1zm4 0h1v1h-1zm1 -1h2v1h-2zm5 1h2v1h-2zm2 1h1v1h-1zm4 1h2v1h-2zm2 1h1v1h-1zm4 2h1v1h-1zm1 1h1v1h-1zm1 1h1v1h-1zm4 2h1v1h-1zm1 1h1v1h-1zm1 1h1v1h-1zm4 4h1v1h-1zm1 1h2v1h-2zm5 4h1v1h-1zm1 1h1v1h-1zm1 1h1v1h-1zm4 4h1v1h-1zm1 1h1v1h-1zm1 1h1v1h-1zm4 4h1v1h-1zm1 1h1v1h-1zm1 1h1v1h-1zm4 4h1v1h-1zm1 1h1v1h-1zm1 1h1v1h-1zm4 4h1v1h-1zm1 1h1v1h-1zm1 1h1v1h-1zm4 4h1v1h-1zm1 1h1v1h-1zm1 1h1v1h-1zm4 3h1v1h-1zm1 1h1v1h-1zm1 1h1v1h-1zm4 4h2v1h-2zm2 1h1v1h-1zm4 2h1v1h-1zm1 1h2v1h-2zm5 2h3v1h-3zm6 1h1v1h-1zm1 1h2v1h-2zm5 1h2v1h-2zm2 1h1v1h-1zm4 1h2v1h-2zm2 1h1v1h-1zm4 0h2v1h-2zm2 1h1v1h-1zm4 0h3v1h-3zm6 1h3v1h-3zm6 0h1v1h-1zm1 -1h2v1h-2zm5 0h3v1h-3zm6 -1h3v1h-3zm6 -2h3v1h-3zm6 -2h2v1h-2zm2 -1h1v1h-1zm4 -2h1v1h-1zm1 -1h2v1h-2zm5 -3h2v1h-2zm2 -1h1v1h-1zm4 -2h2v1h-2zm2 -1h1v1h-1zm4 -2h1v1h-1zm1 -1h1v1h-1zm1 -1h1v1h-1zm4 -2h1v1h-1zm1 -1h1v1h-1zm1 -1h1v1h-1zm4 -3h2v1h-2zm2 -1h1v1h-1zm4 -2h1v1h-1zm1 -1h2v1h-2zm5 -2h3v1h-3zm6 0h1v1h-1zm1 1h2v1h-2zm5 0h3v1h-3zm6 2h2v1h-2zm2 1h1v1h-1zm4 2h1v1h-1zm1 1h1v1h-1zm1 1h1v1h-1zm4 3h1v1h-1zm1 1h1v1h-1zm1 1h1v1h-1zm3 4h1v1h-1zm1 1h1v1h-1zm1 1h1v1h-1zm3 4h1v1h-1zm1 1h1v1h-1zm1 1h1v1h-1zm3 4h1v1h-1zm1 1h1v2h-1zm2 5h1v1h-1zm1 1h1v1h-1zm1 1h1v1h-1zm2 4h1v2h-1zm1 2h1v1h-1zm3 4h1v2h-1zm1 2h1v1h-1zm3 4h1v2h-1zm1 2h1v1h-1zm3 4h1v2h-1zm1 2h1v1h-1zm3 4h1v2h-1zm1 2h1v1h-1zm4 4h1v1h-1zm1 1h1v1h-1zm1 1h1v1h-1zm4 4h1v1h-1zm1 1h1v1h-1zm1 1h1v1h-1zm4 3h1v1h-1zm1 1h2v1h-2zm5 3h1v1h-1zm1 1h2v1h-2zm5 3h2v1h-2zm2 1h1v1h-1zm4 1h1v1h-1zm1 1h2v1h-2zm5 1h3v1h-3zm6 1h3v1h-3zm6 0h1v1h-1zm1 -1h2v1h-2zm5 0h1v1h-1zm1 -1h2v1h-2zm5 -1h3v1h-3zm6 -1h1v1h-1zm1 -1h2v1h-2zm5 -1h1v1h-1zm1 -1h2v1h-2zm5 -1h2v1h-2zm2 -1h1v1h-1zm4 -1h1v1h-1zm1 -1h2v1h-2zm5 -2h3v1h-3zm6 -2h3v1h-3zm6 -2h2v1h-2zm2 -1h1v1h-1zm4 -1h2v1h-2zm2 -1h1v1h-1zm4 -1h3v1h-3zm6 -1h2v1h-2zm2 -1h1v1h-1zm4 0h2v1h-2zm2 -1h1v1h-1zm4 0h3v1h-3zm6 0h3v1h-3zm6 0h3v1h-3zm6 0h3v1h-3zm6 0h3v1h-3zm6 -1h3v1h-3zm6 -1h3v1h-3zm6 0h1v1h-1zm1 -1h2v1h-2zm5 -1h3v1h-3zm6 -2h3v1h-3zm6 -1h1v1h-1zm1 -1h2v1h-2zm5 -2h3v1h-3zm6 -2h1v1h-1zm1 -1h2v1h-2zm5 -3h1v1h-1zm1 -1h1v1h-1zm1 -1h1v1h-1zm4 -2h1v1h-1zm1 -1h1v1h-1zm1 -1h1v1h-1zm4 -3h2v1h-2zm2 -1h1v1h-1zm4 -3h1v1h-1zm1 -1h1v1h-1zm1 -1h1v1h-1zm4 -3h1v1h-1zm1 -1h1v1h-1zm1 -1h1v1h-1zm4 -3h1v1h-1zm1 -1h1v1h-1zm1 -1h1v1h-1zm4 -3h2v1h-2zm2 -1h1v1h-1zm4 -3h2v1h-2zm2 -1h1v1h-1zm4 -3h2v1h-2zm2 -1h1v1h-1zm4 -2h1v1h-1zm1 -1h1v1h-1zm1 -1h1v1h-1zm4 -2h2v1h-2zm2 -1h1v1h-1zm4 -2h1v1h-1zm1 -1h1v1h-1zm1 -1h1v1h-1zm4 -2h2v1h-2zm2 -1h1v1h-1zm4 0h1v1h-1zm1 -1h2v1h-2zm5 0h3v1h-3zm6 -1h3v1h-3zm6 1h2v1h-2zm2 1h1v1h-1zm4 0h2v1h-2zm2 -1h1v1h-1zm4 0h3v1h-3zm6 -1h1v1h-1zm1 -1h2v1h-2zm5 -2h1v1h-1zm1 -1h2v1h-2zm5 -2h1v1h-1zm1 -1h2v1h-2zm5 -2h1v1h-1zm1 -1h2v1h-2zm5 -2h2v1h-2zm2 -1h1v1h-1zm4 -2h3v1h-3zm6 -2h2v1h-2zm2 -1h1v1h-1zm4 -1h3v1h-3zm6 -1h2v1h-2zm2 -1h1v1h-1zm4 -1h1v1h-1zm1 -1h2v1h-2zm5 -1h1v1h-1zm1 1h2v1h-2zm5 1h3v1h-3zm6 3h1v1h-1zm1 1h1v1h-1zm1 1h1v1h-1zm4 3h2v1h-2zm2 1h1v1h-1zm4 4h1v1h-1zm1 1h1v1h-1zm1 1h1v1h-1zm4 3h1v1h-1zm1 1h1v1h-1zm1 1h1v1h-1zm4 4h1v1h-1zm1 1h1v1h-1zm1 1h1v1h-1zm3 4h1v1h-1zm1 1h1v1h-1zm1 1h1v1h-1zm4 4h1v1h-1zm1 1h1v1h-1zm1 1h1v1h-1zm4 4h1v1h-1zm1 1h1v1h-1zm1 1h1v1h-1zm4 4h1v1h-1zm1 1h1v1h-1zm1 1h1v1h-1zm4 2h1v1h-1zm1 1h1v1h-1zm1 1h1v1h-1zm4 2h1v1h-1zm1 1h1v1h-1zm1 1h1v1h-1zm4 2h2v1h-2zm2 1h1v1h-1zm4 2h3v1h-3zm6 0h1v1h-1zm1 1h2v1h-2zm5 0h3v1h-3zm6 0h1v1h-1zm1 -1h2v1h-2zm5 0h2v1h-2zm2 -1h1v1h-1zm4 -2h2v1h-2zm2 -1h1v1h-1zm4 -2h2v1h-2zm2 -1h1v1h-1zm4 -2h1v1h-1zm1 -1h2v1h-2zm5 -2h1v1h-1zm1 -1h1v1h-1zm1 -1h1v1h-1zm4 -3h1v1h-1zm1 -1h1v1h-1zm1 -1h1v1h-1zm4 -3h1v1h-1zm1 -1h1v1h-1zm1 -1h1v1h-1zm4 -3h1v1h-1zm1 -1h2v1h-2zm5 -3h1v1h-1zm1 -1h1v1h-1zm1 -1h1v1h-1zm4 -3h1v1h-1zm1 -1h2v1h-2zm5 -3h1v1h-1zm1 -1h1v1h-1zm1 -1h1v1h-1zm4 -3h1v1h-1zm1 -1h2v1h-2zm5 -3h1v1h-1zm1 -1h1v1h-1zm1 -1h1v1h-1zm4 -2h1v1h-1zm1 -1h2v1h-2zm5 -2h1v1h-1zm1 -1h2v1h-2zm5 -2h1v1h-1zm1 -1h2v1h-2zm5 -2h3v1h-3zm6 -1h3v1h-3zm6 -1h3v1h-3zm6 0h1v1h-1zm1 1h2v1h-2zm5 0h3v1h-3zm6 1h3v1h-3zm6 1h3v1h-3zm6 2h1v1h-1zm1 1h2v1h-2zm5 2h2v1h-2zm2 1h1v1h-1zm4 2h1v1h-1zm1 1h2v1h-2zm5 2h1v1h-1zm1 1h1v1h-1zm1 1h1v1h-1zm4 2h2v1h-2zm2 1h1v1h-1zm4 2h2v1h-2zm2 1h1v1h-1zm4 3h1v1h-1zm1 1h2v1h-2zm5 3h1v1h-1zm1 1h1v1h-1zm1 1h1v1h-1zm4 2h1v1h-1zm1 1h2v1h-2zm5 2h1v1h-1zm1 1h1v1h-1zm1 1h1v1h-1zm4 2h1v1h-1zm1 1h2v1h-2zm5 2h1v1h-1zm1 1h1v1h-1zm1 1h1v1h-1zm4 2h1v1h-1zm1 1h1v1h-1zm1 1h1v1h-1zm4 2h1v1h-1zm1 1h1v1h-1zm1 1h1v1h-1zm4 2h1v1h-1zm1 1h1v1h-1zm1 1h1v1h-1zm4 2h1v1h-1zm1 1h1v1h-1zm1 1h1v1h-1zm4 3h2v1h-2zm2 1h1v1h-1zm4 3h2v1h-2zm2 1h1v1h-1zm4 2h2v1h-2zm2 1h1v1h-1zm4 1h1v1h-1zm1 1h2v1h-2zm5 2h2v1h-2zm2 1h1v1h-1zm4 2h2v1h-2zm2 1h1v1h-1zm4 2h2v1h-2zm2 1h1v1h-1zm4 1h1v1h-1zm1 1h2v1h-2zm5 2h2v1h-2zm2 1h1v1h-1zm4 0h1v1h-1zm1 1h2v1h-2zm5 0h3v1h-3zm6 0h3v1h-3zm6 -1h1v1h-1zm1 -1h2v1h-2zm5 -2h2v1h-2zm2 -1h1v1h-1zm4 -2h2v1h-2zm2 -1h1v1h-1zm4 -2h1v1h-1zm1 -1h2v1h-2zm5 -3h1v1h-1zm1 -1h1v1h-1zm1 -1h1v1h-1zm4 -4h1v1h-1zm1 -1h1v1h-1zm1 -1h1v1h-1zm3 -4h1v1h-1zm1 -2h1v2h-1zm3 -4h1v1h-1zm1 -2h1v2h-1zm3 -4h1v1h-1zm1 -1h1v1h-1zm1 -1h1v1h-1zm3 -5h1v2h-1zm1 -1h1v1h-1zm3 -5h1v2h-1zm1 -1h1v1h-1zm3 -5h1v2h-1zm1 -1h1v1h-1zm3 -4h1v1h-1zm1 -2h1v2h-1zm3 -4h1v1h-1zm1 -1h1v1h-1zm1 -1h1v1h-1zm3 -4h1v1h-1zm1 -1h1v1h-1zm1 -1h1v1h-1zm4 -4h1v1h-1zm1 -1h1v1h-1zm1 -1h1v1h-1zm4 -4h1v1h-1zm1 -1h2v1h-2zm5 -3h2v1h-2zm2 -1h1v1h-1zm4 -2h1v1h-1zm1 -1h2v1h-2z" fill="#ff0000"/>
</g>
<g shape-rendering="crispEdges" clip-path="url(#cRsi)">
<line x1="2" y1="792.5" x2="1653" y2="792.5" stroke="#c0c0c0" stroke-width="1" stroke-dasharray="3 3"/>
<line x1="2" y1="843.5" x2="1653" y2="843.5" stroke="#c0c0c0" stroke-width="1" stroke-dasharray="3 3"/>
<line x1="2" y1="904.5" x2="1653" y2="904.5" stroke="#c0c0c0" stroke-width="1" stroke-dasharray="3 3"/>
<path d="m3 854h1v1h-1zm1 1h1v1h-1zm1 1h1v1h-1zm1 1h1v1h-1zm1 1h1v1h-1zm1 1h1v1h-1zm1 1h1v1h-1zm1 1h1v1h-1zm1 1h1v1h-1zm1 -1h1v1h-1zm1 -1h1v1h-1zm1 -1h1v1h-1zm1 -2h1v2h-1zm1 -1h1v1h-1zm1 -1h1v1h-1zm1 -1h1v1h-1zm1 -1h1v1h-1zm1 -1h1v1h-1zm1 -1h2v1h-2zm2 -1h1v1h-1zm1 -1h1v1h-1zm1 -1h2v1h-2zm2 -1h4v1h-4zm4 1h14v1h-14zm14 1h2v1h-2zm2 1h3v1h-3zm3 1h2v1h-2zm2 1h1v1h-1zm1 1h2v1h-2zm2 1h1v1h-1zm1 1h1v1h-1zm1 1h2v1h-2zm2 1h1v1h-1zm1 -2h1v2h-1zm1 -1h1v1h-1zm1 -2h1v2h-1zm1 -1h1v1h-1zm1 -2h1v2h-1zm1 -1h1v1h-1zm1 -2h1v2h-1zm1 -1h1v1h-1zm1 1h1v1h-1zm1 1h1v1h-1zm1 1h1v1h-1zm1 1h2v1h-2zm2 1h1v1h-1zm1 1h1v1h-1zm1 1h2v1h-2zm2 1h4v1h-4zm4 1h3v1h-3zm3 -1h2v1h-2zm2 -1h1v1h-1zm1 -1h2v1h-2zm2 -1h2v1h-2zm2 -1h1v1h-1zm1 1h1v1h-1zm1 1h1v1h-1zm1 1h1v1h-1zm1 1h1v1h-1zm1 1h1v1h-1zm1 1h1v1h-1zm1 1h1v1h-1zm1 1h4v1h-4zm4 -1h5v1h-5zm5 -2h1v2h-1zm1 -1h1v1h-1zm1 -2h1v2h-1zm1 -1h1v1h-1zm1 -2h1v2h-1zm1 -1h1v1h-1zm1 -2h1v2h-1zm1 -1h1v1h-1zm1 -1h2v1h-2zm2 -1h2v1h-2zm2 -1h2v1h-2zm2 -1h2v1h-2zm2 1h1v2h-1zm1 2h1v2h-1zm1 2h1v1h-1zm1 1h1v2h-1zm1 2h1v1h-1zm1 1h1v2h-1zm1 2h1v2h-1zm1 2h1v1h-1zm1 -1h2v1h-2zm2 -1h2v1h-2zm2 -1h2v1h-2zm2 -1h5v1h-5zm5 -1h8v1h-8zm8 -1h5v1h-5zm5 -1h1v1h-1zm1 -1h2v1h-2zm2 -1h1v1h-1zm1 -1h1v1h-1zm1 -1h2v1h-2zm2 -1h1v1h-1zm1 -2h1v2h-1zm1 -1h1v1h-1zm1 -2h1v2h-1zm1 -1h1v1h-1zm1 -2h1v2h-1zm1 -1h1v1h-1zm1 -2h1v2h-1zm1 -1h2v1h-2zm2 -1h4v1h-4zm4 -1h4v1h-4zm4 -1h4v1h-4zm4 -1h3v1h-3zm3 1h1v1h-1zm1 1h1v2h-1zm1 2h1v1h-1zm1 1h1v1h-1zm1 1h1v1h-1zm1 1h1v2h-1zm1 2h1v1h-1zm1 1h2v1h-2zm2 -1h2v1h-2zm2 -1h3v1h-3zm3 -1h2v1h-2zm2 -1h1v1h-1zm1 -1h1v1h-1zm1 -1h1v1h-1zm1 -1h1v1h-1zm1 -1h1v1h-1zm1 -1h1v1h-1zm1 -1h1v1h-1zm1 -2h1v2h-1zm1 -3h1v3h-1zm1 -2h1v2h-1zm1 -3h1v3h-1zm1 -3h1v3h-1zm1 -3h1v3h-1zm1 -2h1v2h-1zm1 -3h1v3h-1zm1 -2h1v2h-1zm1 0h1v1h-1zm1 1h2v1h-2zm2 1h3v1h-3zm3 1h5v1h-5zm5 -1h6v1h-6zm6 -1h2v1h-2zm2 -1h3v1h-3zm3 -1h5v1h-5zm5 1h5v1h-5zm5 -1h2v1h-2zm2 -1h2v1h-2zm2 -1h2v1h-2zm2 -1h2v1h-2zm2 1h1v2h-1zm1 2h1v2h-1zm1 2h1v2h-1zm1 2h1v2h-1zm1 2h1v2h-1zm1 2h1v2h-1zm1 2h1v2h-1zm1 2h1v2h-1zm1 1h1v1h-1zm1 1h2v1h-2zm2 1h3v1h-3zm3 1h2v1h-2zm2 -1h2v1h-2zm2 -1h2v1h-2zm2 -1h2v1h-2zm2 -1h2v1h-2zm2 1h1v2h-1zm1 2h1v2h-1zm1 2h1v2h-1zm1 2h1v2h-1zm1 2h1v2h-1zm1 2h1v2h-1zm1 2h1v2h-1zm1 2h1v2h-1zm1 1h3v1h-3zm3 -1h6v1h-6zm6 1h2v1h-2zm2 1h3v1h-3zm3 1h2v1h-2zm2 1h1v2h-1zm1 2h1v1h-1zm1 1h1v2h-1zm1 2h1v1h-1zm1 1h1v2h-1zm1 2h1v1h-1zm1 1h1v2h-1zm1 2h1v1h-1zm1 -1h2v1h-2zm2 -1h2v1h-2zm2 -1h2v1h-2zm2 -1h3v1h-3zm3 1h2v1h-2zm2 1h3v1h-3zm3 1h3v1h-3zm3 1h2v1h-2zm2 1h3v1h-3zm3 1h3v1h-3zm3 -1h2v1h-2zm2 -1h3v1h-3zm3 -1h2v1h-2zm2 -1h1v1h-1zm1 -1h1v1h-1zm1 -1h1v1h-1zm1 -1h1v1h-1zm1 -1h1v1h-1zm1 -1h1v1h-1zm1 -1h1v1h-1zm1 -1h1v1h-1zm1 1h1v2h-1zm1 2h1v2h-1zm1 2h1v1h-1zm1 1h1v2h-1zm1 2h1v1h-1zm1 1h1v2h-1zm1 2h1v2h-1zm1 2h2v1h-2zm2 -1h2v1h-2zm2 -1h3v1h-3zm3 -1h5v1h-5zm5 -1h5v1h-5zm5 -1h1v1h-1zm1 -1h1v1h-1zm1 -1h1v1h-1zm1 -1h1v1h-1zm1 -1h1v1h-1zm1 -1h1v1h-1zm1 -1h1v1h-1zm1 -1h1v1h-1zm1 -1h1v1h-1zm1 -1h1v1h-1zm1 -1h1v1h-1zm1 -1h1v1h-1zm1 -1h1v1h-1zm1 -1h1v1h-1zm1 -1h1v1h-1zm1 -1h4v1h-4zm4 -1h5v1h-5zm5 1h1v2h-1zm1 2h1v2h-1zm1 2h1v1h-1zm1 1h1v2h-1zm1 2h1v1h-1zm1 1h1v2h-1zm1 2h1v2h-1zm1 2h1v1h-1zm1 1h2v1h-2zm2 1h2v1h-2zm2 1h2v1h-2zm2 1h3v1h-3zm3 -1h2v1h-2zm2 -1h3v1h-3zm3 -1h2v1h-2zm2 -1h2v1h-2zm2 -1h1v1h-1zm1 -1h2v1h-2zm2 -1h2v1h-2zm2 -1h1v1h-1zm1 -1h1v1h-1zm1 -1h1v1h-1zm1 -1h1v1h-1zm1 -2h1v2h-1zm1 -1h1v1h-1zm1 -1h1v1h-1zm1 -1h1v1h-1zm1 -1h2v1h-2zm2 1h2v1h-2zm2 1h3v1h-3zm3 1h2v1h-2zm1 -1h1v1h-1zm1 -2h1v2h-1zm1 -3h1v3h-1zm1 -2h1v2h-1zm1 -3h1v3h-1zm1 -2h1v2h-1zm1 -3h1v3h-1zm1 -2h1v2h-1zm1 -2h1v2h-1zm1 0h3v1h-3zm3 1h8v1h-8zm8 -1h5v1h-5zm5 1h2v1h-2zm2 1h1v1h-1zm1 1h2v1h-2zm2 1h2v1h-2zm2 1h1v1h-1zm1 1h2v1h-2zm2 1h2v1h-2zm2 1h2v1h-2zm2 1h2v1h-2zm2 1h1v1h-1zm1 1h1v1h-1zm1 1h1v1h-1zm1 1h2v1h-2zm2 1h1v1h-1zm1 1h1v1h-1zm1 1h1v3h-1zm1 3h1v4h-1zm1 4h1v4h-1zm1 4h1v5h-1zm1 5h1v4h-1zm1 4h1v5h-1zm1 5h1v4h-1zm1 4h1v4h-1zm1 4h1v3h-1zm1 1h2v1h-2zm2 -1h2v1h-2zm2 -1h2v1h-2zm2 -1h2v1h-2zm2 -1h1v1h-1zm1 -1h2v1h-2zm2 -1h1v1h-1zm1 -1h1v1h-1zm1 -1h2v1h-2zm2 -1h2v1h-2zm2 1h2v1h-2zm2 1h3v1h-3zm3 1h2v1h-2zm2 1h1v1h-1zm1 1h2v1h-2zm2 1h1v1h-1zm1 1h1v1h-1zm1 1h2v1h-2zm2 1h1v1h-1zm1 1h2v1h-2zm2 1h2v1h-2zm2 1h2v1h-2zm2 1h3v1h-3zm3 1h4v1h-4zm4 1h6v1h-6zm6 1h6v1h-6zm6 -1h4v1h-4zm4 -1h3v1h-3zm3 -1h1v1h-1zm1 -2h1v2h-1zm1 -1h1v1h-1zm1 -1h1v1h-1zm1 -1h1v1h-1zm1 -2h1v2h-1zm1 -1h1v1h-1zm1 -1h1v1h-1zm1 -1h1v1h-1zm1 -1h1v1h-1zm1 -1h1v1h-1zm1 -1h2v1h-2zm2 -1h1v1h-1zm1 -1h1v1h-1zm1 -1h1v1h-1zm1 1h1v1h-1zm1 1h2v1h-2zm2 1h1v1h-1zm1 1h1v1h-1zm1 1h2v1h-2zm2 1h2v1h-2zm2 -1h2v1h-2zm2 -1h3v1h-3zm3 -1h5v1h-5zm5 -1h22v1h-22zm22 1h4v1h-4zm4 1h3v1h-3zm3 1h2v1h-2zm2 1h2v1h-2zm2 1h2v1h-2zm2 1h2v1h-2zm1 -1h1v1h-1zm1 -2h1v2h-1zm1 -2h1v2h-1zm1 -2h1v2h-1zm1 -2h1v2h-1zm1 -2h1v2h-1zm1 -2h1v2h-1zm1 -2h1v2h-1zm1 -2h1v2h-1zm1 0h3v1h-3zm3 -1h6v1h-6zm6 1h4v1h-4zm4 1h3v1h-3zm3 1h2v1h-2zm2 1h2v1h-2zm2 1h2v1h-2zm2 1h11v1h-11zm11 1h2v1h-2zm2 1h3v1h-3zm3 1h3v1h-3zm3 1h4v1h-4zm4 1h3v1h-3zm3 1h1v2h-1zm1 2h1v2h-1zm1 2h1v2h-1zm1 2h1v1h-1zm1 1h1v2h-1zm1 2h1v2h-1zm1 2h1v2h-1zm1 2h1v1h-1zm1 -1h1v1h-1zm1 -1h1v1h-1zm1 -1h1v1h-1zm1 -1h1v1h-1zm1 -1h1v1h-1zm1 -1h1v1h-1zm1 -1h1v1h-1zm1 -1h10v1h-10zm10 -1h2v1h-2zm2 -1h3v1h-3zm3 -1h2v1h-2zm2 -2h1v2h-1zm1 -2h1v2h-1zm1 -2h1v2h-1zm1 -1h1v1h-1zm1 -2h1v2h-1zm1 -2h1v2h-1zm1 -2h1v2h-1zm1 -1h1v1h-1zm1 -2h1v2h-1zm1 -1h1v1h-1zm1 -2h1v2h-1zm1 -1h1v1h-1zm1 -2h1v2h-1zm1 -1h1v1h-1zm1 -2h1v2h-1zm1 -1h1v1h-1zm1 1h2v1h-2zm2 1h2v1h-2zm2 1h2v1h-2zm2 1h10v1h-10zm10 -1h2v1h-2zm2 -1h2v1h-2zm2 -1h2v1h-2zm2 -1h2v1h-2zm2 1h1v1h-1zm1 1h1v1h-1zm1 1h1v1h-1zm1 1h1v1h-1zm1 1h1v1h-1zm1 1h1v1h-1zm1 1h1v1h-1zm1 1h1v1h-1zm1 -1h2v1h-2zm2 -1h1v1h-1zm1 -1h2v1h-2zm2 -1h2v1h-2zm2 -1h1v1h-1zm1 -2h1v2h-1zm1 -2h1v2h-1zm1 -2h1v2h-1zm1 -1h1v1h-1zm1 -2h1v2h-1zm1 -2h1v2h-1zm1 -2h1v2h-1zm1 -1h2v1h-2zm2 -1h2v1h-2zm2 -1h3v1h-3zm3 -1h5v1h-5zm5 1h6v1h-6zm6 -1h4v1h-4zm4 -1h3v1h-3zm3 1h2v1h-2zm2 1h2v1h-2zm2 1h2v1h-2zm2 1h2v1h-2zm2 -1h2v1h-2zm2 -1h2v1h-2zm2 -1h2v1h-2zm2 -1h10v1h-10zm10 1h1v1h-1zm1 1h1v2h-1zm1 2h1v1h-1zm1 1h1v1h-1zm1 1h1v1h-1zm1 1h1v2h-1zm1 2h1v1h-1zm1 1h2v1h-2zm2 -1h4v1h-4zm4 -1h6v1h-6zm6 -1h5v1h-5zm4 1h1v1h-1zm1 1h1v2h-1zm1 2h1v2h-1zm1 2h1v2h-1zm1 2h1v3h-1zm1 3h1v2h-1zm1 2h1v2h-1zm1 2h1v2h-1zm1 2h1v2h-1zm1 1h8v1h-8zm8 1h1v1h-1zm1 1h1v1h-1zm1 1h1v1h-1zm1 1h2v1h-2zm2 1h1v1h-1zm1 1h1v1h-1zm1 -1h1v3h-1zm1 -5h1v5h-1zm1 -5h1v5h-1zm1 -5h1v5h-1zm1 -5h1v5h-1zm1 -5h1v5h-1zm1 -5h1v5h-1zm1 -5h1v5h-1zm1 -3h1v3h-1zm1 -1h2v1h-2zm2 -1h2v1h-2zm2 -1h2v1h-2zm2 -1h2v1h-2zm2 1h2v1h-2zm2 1h2v1h-2zm2 1h2v1h-2zm2 1h2v1h-2zm2 1h1v2h-1zm1 2h1v1h-1zm1 1h1v1h-1zm1 1h1v2h-1zm1 2h1v1h-1zm1 1h1v1h-1zm1 1h1v2h-1zm1 2h1v1h-1zm1 -1h2v1h-2zm2 -1h2v1h-2zm2 -1h2v1h-2zm2 -1h2v1h-2zm1 1h1v1h-1zm1 1h1v4h-1zm1 4h1v3h-1zm1 3h1v3h-1zm1 3h1v4h-1zm1 4h1v3h-1zm1 3h1v3h-1zm1 3h1v4h-1zm1 4h1v2h-1zm1 1h9v1h-9zm9 -1h4v1h-4zm4 -1h3v1h-3zm3 1h1v1h-1zm1 1h1v1h-1zm1 1h1v1h-1zm1 1h2v1h-2zm2 1h1v1h-1zm1 1h1v1h-1zm1 1h1v1h-1zm1 1h1v2h-1zm1 2h1v1h-1zm1 1h1v1h-1zm1 1h1v2h-1zm1 2h1v1h-1zm1 1h1v1h-1zm1 1h1v2h-1zm1 2h1v1h-1zm1 -1h1v1h-1zm1 -1h1v1h-1zm1 -1h1v1h-1zm1 -1h1v1h-1zm1 -1h1v1h-1zm1 -1h1v1h-1zm1 -1h1v1h-1zm1 -1h1v1h-1zm1 -1h2v1h-2zm2 -1h2v1h-2zm2 -1h2v1h-2zm2 -1h3v1h-3zm3 1h2v1h-2zm2 1h3v1h-3zm3 1h3v1h-3zm3 -1h4v1h-4zm4 -1h3v1h-3zm2 1h1v1h-1zm1 1h1v2h-1zm1 2h1v2h-1zm1 2h1v2h-1zm1 2h1v3h-1zm1 3h1v2h-1zm1 2h1v2h-1zm1 2h1v2h-1zm1 2h1v2h-1zm1 -1h1v2h-1zm1 -1h1v1h-1zm1 -2h1v2h-1zm1 -1h1v1h-1zm1 -2h1v2h-1zm1 -1h1v1h-1zm1 -2h1v2h-1zm1 -1h2v1h-2zm2 -1h4v1h-4zm4 -1h3v1h-3zm3 -1h1v1h-1zm1 -1h2v1h-2zm2 -1h1v1h-1zm1 -1h1v1h-1zm1 -1h2v1h-2zm2 -1h1v1h-1zm1 -1h2v1h-2zm2 -1h2v1h-2zm2 -1h2v1h-2zm2 -1h3v1h-3zm3 -1h2v1h-2zm2 -1h3v1h-3zm3 -1h3v1h-3zm3 -1h4v1h-4zm4 -1h4v1h-4zm4 -1h2v1h-2zm2 -1h3v1h-3zm3 -1h5v1h-5zm5 -1h5v1h-5zm5 -1h1v1h-1zm1 -2h1v2h-1zm1 -1h1v1h-1zm1 -1h1v1h-1zm1 -1h1v1h-1zm1 -2h1v2h-1zm1 -1h1v1h-1zm1 -1h1v1h-1zm1 1h1v1h-1zm1 1h1v1h-1zm1 1h1v1h-1zm1 1h1v2h-1zm1 2h1v1h-1zm1 1h1v1h-1zm1 1h1v1h-1zm1 1h2v1h-2zm2 -1h4v1h-4zm4 -1h3v1h-3zm3 -1h2v1h-2zm2 -1h2v1h-2zm2 -1h2v1h-2zm2 -1h2v1h-2zm2 -1h2v1h-2zm2 -1h1v1h-1zm1 -1h2v1h-2zm2 -1h2v1h-2zm2 -1h2v1h-2zm2 1h4v1h-4zm4 1h11v1h-11zm11 -1h2v1h-2zm2 -1h2v1h-2zm2 -1h2v1h-2zm2 -1h3v1h-3zm3 -1h4v1h-4zm4 -1h11v1h-11zm11 1h1v2h-1zm1 2h1v1h-1zm1 1h1v2h-1zm1 2h1v1h-1zm1 1h1v2h-1zm1 2h1v1h-1zm1 1h1v2h-1zm1 2h1v1h-1zm1 1h1v1h-1zm1 1h2v1h-2zm2 1h1v1h-1zm1 1h1v1h-1zm1 1h2v1h-2zm2 1h1v1h-1zm1 -1h2v1h-2zm2 -1h1v1h-1zm1 -1h2v1h-2zm2 -1h2v1h-2zm2 -1h1v1h-1zm1 1h2v1h-2zm2 1h1v1h-1zm1 1h2v1h-2zm2 1h2v1h-2zm2 1h1v1h-1zm1 -1h2v1h-2zm2 -1h2v1h-2zm2 -1h2v1h-2zm2 -1h2v1h-2zm2 1h2v1h-2zm2 1h1v1h-1zm1 1h2v1h-2zm2 1h2v1h-2zm2 1h1v1h-1zm1 1h1v1h-1zm1 1h1v1h-1zm1 1h1v1h-1zm1 1h1v2h-1zm1 2h1v1h-1zm1 1h1v1h-1zm1 1h1v1h-1zm1 1h4v1h-4zm4 1h6v1h-6zm6 -1h2v1h-2zm2 -1h3v1h-3zm3 -1h2v1h-2zm2 -1h2v1h-2zm2 -1h2v1h-2zm2 -1h2v1h-2zm2 -1h3v1h-3zm3 1h4v1h-4zm4 1h3v1h-3zm3 1h1v2h-1zm1 2h1v2h-1zm1 2h1v2h-1zm1 2h1v2h-1zm1 2h1v2h-1zm1 2h1v2h-1zm1 2h1v2h-1zm1 2h4v1h-4zm4 -1h5v1h-5zm4 -1h1v1h-1zm1 -2h1v2h-1zm1 -3h1v3h-1zm1 -2h1v2h-1zm1 -3h1v3h-1zm1 -2h1v2h-1zm1 -3h1v3h-1zm1 -2h1v2h-1zm1 -2h1v2h-1zm1 2h1v3h-1zm1 3h1v4h-1zm1 4h1v3h-1zm1 3h1v3h-1zm1 3h1v3h-1zm1 3h1v4h-1zm1 4h1v3h-1zm1 3h1v2h-1zm1 0h2v1h-2zm2 -1h1v1h-1zm1 -1h2v1h-2zm2 -1h2v1h-2zm2 -1h9v1h-9zm9 1h2v1h-2zm2 1h2v1h-2zm2 1h2v1h-2zm2 1h2v1h-2zm2 -1h1v1h-1zm1 -2h1v2h-1zm1 -1h1v1h-1zm1 -1h1v1h-1zm1 -1h1v1h-1zm1 -2h1v2h-1zm1 -1h1v1h-1zm1 -1h1v1h-1zm1 1h2v1h-2zm2 1h2v1h-2zm2 1h2v1h-2zm2 1h2v1h-2zm2 1h2v1h-2zm2 1h2v1h-2zm2 1h2v1h-2zm2 1h13v1h-13zm13 1h6v1h-6zm6 1h2v1h-2zm2 1h3v1h-3zm3 1h2v1h-2zm2 -1h2v1h-2zm2 -1h1v1h-1zm1 -1h2v1h-2zm2 -1h2v1h-2zm2 -1h4v1h-4zm4 1h5v1h-5zm4 -1h1v1h-1zm1 -4h1v4h-1zm1 -4h1v4h-1zm1 -4h1v4h-1zm1 -4h1v4h-1zm1 -4h1v4h-1zm1 -4h1v4h-1zm1 -4h1v4h-1zm1 -2h1v2h-1zm1 0h1v1h-1zm1 -1h4v1h-4zm4 -1h4v1h-4zm4 -1h4v1h-4zm4 -1h3v1h-3zm3 1h2v1h-2zm2 1h2v1h-2zm2 1h2v1h-2zm2 1h2v1h-2zm2 -1h1v1h-1zm1 -1h1v1h-1zm1 -1h1v1h-1zm1 -1h1v1h-1zm1 -1h1v1h-1zm1 -1h1v1h-1zm1 -1h1v1h-1zm1 -1h1v1h-1zm1 -1h1v1h-1zm1 -1h1v1h-1zm1 -1h1v1h-1zm1 -1h2v1h-2zm2 -1h1v1h-1zm1 -1h1v1h-1zm1 -1h2v1h-2zm2 -1h2v1h-2zm2 -1h3v1h-3zm3 -1h5v1h-5zm5 1h8v1h-8zm8 -1h14v1h-14zm14 1h4v1h-4zm4 1h3v1h-3zm3 1h1v2h-1zm1 2h1v1h-1zm1 1h1v2h-1zm1 2h1v1h-1zm1 1h1v2h-1zm1 2h1v1h-1zm1 1h1v2h-1zm1 2h1v1h-1zm1 1h1v2h-1zm1 2h1v2h-1zm1 2h1v2h-1zm1 2h1v2h-1zm1 2h1v2h-1zm1 2h1v2h-1zm1 2h1v2h-1zm1 2h1v2h-1zm1 2h1v2h-1zm1 2h1v2h-1zm1 2h1v2h-1zm1 2h1v1h-1zm1 1h1v2h-1zm1 2h1v2h-1zm1 2h1v2h-1zm1 2h1v1h-1z" fill="#1e90ff"/>
</g>
<g shape-rendering="crispEdges" fill="#000">
<rect x="0" y="29" width="1654" height="1"/>
<rect x="1653" y="29" width="1" height="554"/><rect x="1653" y="584" width="1" height="171"/><rect x="1653" y="756" width="1" height="175"/>
<rect x="0" y="582" width="1654" height="1"/>
<rect x="0" y="584" width="1654" height="1"/>
<rect x="0" y="754" width="1654" height="1"/>
<rect x="0" y="756" width="1654" height="1"/>
<rect x="0" y="930" width="1654" height="1"/>
<rect x="1654" y="51" width="2" height="1"/>
<rect x="1654" y="84" width="2" height="1"/>
<rect x="1654" y="117" width="2" height="1"/>
<rect x="1654" y="150" width="2" height="1"/>
<rect x="1654" y="183" width="2" height="1"/>
<rect x="1654" y="216" width="2" height="1"/>
<rect x="1654" y="249" width="2" height="1"/>
<rect x="1654" y="282" width="2" height="1"/>
<rect x="1654" y="315" width="2" height="1"/>
<rect x="1654" y="348" width="2" height="1"/>
<rect x="1654" y="381" width="2" height="1"/>
<rect x="1654" y="414" width="2" height="1"/>
<rect x="1654" y="447" width="2" height="1"/>
<rect x="1654" y="480" width="2" height="1"/>
<rect x="1654" y="513" width="2" height="1"/>
<rect x="1654" y="546" width="2" height="1"/>
<rect x="1654" y="579" width="2" height="1"/>
<rect x="59" y="931" width="1" height="3"/>
<rect x="123" y="931" width="1" height="3"/>
<rect x="187" y="931" width="1" height="3"/>
<rect x="251" y="931" width="1" height="3"/>
<rect x="315" y="931" width="1" height="3"/>
<rect x="379" y="931" width="1" height="3"/>
<rect x="443" y="931" width="1" height="3"/>
<rect x="507" y="931" width="1" height="3"/>
<rect x="571" y="931" width="1" height="3"/>
<rect x="635" y="931" width="1" height="3"/>
<rect x="699" y="931" width="1" height="3"/>
<rect x="763" y="931" width="1" height="3"/>
<rect x="827" y="931" width="1" height="3"/>
<rect x="891" y="931" width="1" height="3"/>
<rect x="955" y="931" width="1" height="3"/>
<rect x="1019" y="931" width="1" height="3"/>
<rect x="1083" y="931" width="1" height="3"/>
<rect x="1147" y="931" width="1" height="3"/>
<rect x="1211" y="931" width="1" height="3"/>
<rect x="1275" y="931" width="1" height="3"/>
<rect x="1339" y="931" width="1" height="3"/>
<rect x="1403" y="931" width="1" height="3"/>
<rect x="1467" y="931" width="1" height="3"/>
<rect x="1654" y="586" width="1" height="1"/>
<rect x="1654" y="705" width="1" height="1"/>
<rect x="1654" y="753" width="1" height="1"/>
<rect x="1654" y="758" width="1" height="1"/>
<rect x="1654" y="792" width="1" height="1"/>
<rect x="1654" y="843" width="1" height="1"/>
<rect x="1654" y="904" width="1" height="1"/>
<rect x="1654" y="928" width="1" height="1"/>
</g>
<text x="1659.3" y="55.0" font-size="9.6" fill="#000" stroke="#000" stroke-width="0.2" text-anchor="start" textLength="32.5" lengthAdjust="spacingAndGlyphs">111.685</text>
<text x="1659.3" y="88.0" font-size="9.6" fill="#000" stroke="#000" stroke-width="0.2" text-anchor="start" textLength="32.5" lengthAdjust="spacingAndGlyphs">111.485</text>
<text x="1659.3" y="121.0" font-size="9.6" fill="#000" stroke="#000" stroke-width="0.2" text-anchor="start" textLength="32.5" lengthAdjust="spacingAndGlyphs">111.285</text>
<text x="1659.3" y="154.0" font-size="9.6" fill="#000" stroke="#000" stroke-width="0.2" text-anchor="start" textLength="32.5" lengthAdjust="spacingAndGlyphs">111.085</text>
<text x="1659.3" y="187.0" font-size="9.6" fill="#000" stroke="#000" stroke-width="0.2" text-anchor="start" textLength="32.5" lengthAdjust="spacingAndGlyphs">110.885</text>
<text x="1659.3" y="220.0" font-size="9.6" fill="#000" stroke="#000" stroke-width="0.2" text-anchor="start" textLength="32.5" lengthAdjust="spacingAndGlyphs">110.685</text>
<text x="1659.3" y="253.0" font-size="9.6" fill="#000" stroke="#000" stroke-width="0.2" text-anchor="start" textLength="32.5" lengthAdjust="spacingAndGlyphs">110.485</text>
<text x="1659.3" y="286.0" font-size="9.6" fill="#000" stroke="#000" stroke-width="0.2" text-anchor="start" textLength="32.5" lengthAdjust="spacingAndGlyphs">110.285</text>
<text x="1659.3" y="319.0" font-size="9.6" fill="#000" stroke="#000" stroke-width="0.2" text-anchor="start" textLength="32.5" lengthAdjust="spacingAndGlyphs">110.085</text>
<text x="1659.3" y="352.0" font-size="9.6" fill="#000" stroke="#000" stroke-width="0.2" text-anchor="start" textLength="32.5" lengthAdjust="spacingAndGlyphs">109.885</text>
<text x="1659.3" y="385.0" font-size="9.6" fill="#000" stroke="#000" stroke-width="0.2" text-anchor="start" textLength="32.5" lengthAdjust="spacingAndGlyphs">109.685</text>
<text x="1659.3" y="418.0" font-size="9.6" fill="#000" stroke="#000" stroke-width="0.2" text-anchor="start" textLength="32.5" lengthAdjust="spacingAndGlyphs">109.485</text>
<text x="1659.3" y="451.0" font-size="9.6" fill="#000" stroke="#000" stroke-width="0.2" text-anchor="start" textLength="32.5" lengthAdjust="spacingAndGlyphs">109.285</text>
<text x="1659.3" y="484.0" font-size="9.6" fill="#000" stroke="#000" stroke-width="0.2" text-anchor="start" textLength="32.5" lengthAdjust="spacingAndGlyphs">109.085</text>
<text x="1659.3" y="517.0" font-size="9.6" fill="#000" stroke="#000" stroke-width="0.2" text-anchor="start" textLength="32.5" lengthAdjust="spacingAndGlyphs">108.885</text>
<text x="1659.3" y="550.0" font-size="9.6" fill="#000" stroke="#000" stroke-width="0.2" text-anchor="start" textLength="32.5" lengthAdjust="spacingAndGlyphs">108.685</text>
<text x="1659.3" y="583.0" font-size="9.6" fill="#000" stroke="#000" stroke-width="0.2" text-anchor="start" textLength="32.5" lengthAdjust="spacingAndGlyphs">108.485</text>
<rect x="1655" y="99" width="41" height="11" fill="#ff0000" shape-rendering="crispEdges"/>
<text x="1659.3" y="107.6" font-size="9.6" fill="#fff" stroke="#fff" stroke-width="0.2" text-anchor="start" textLength="32.5" lengthAdjust="spacingAndGlyphs">111.356</text>
<rect x="1648.5" y="103.5" width="4" height="4" fill="#fff" stroke="#ff0000" stroke-width="1" shape-rendering="crispEdges"/>
<rect x="1655" y="116" width="41" height="11" fill="#ff0000" shape-rendering="crispEdges"/>
<text x="1659.3" y="124.6" font-size="9.6" fill="#fff" stroke="#fff" stroke-width="0.2" text-anchor="start" textLength="32.5" lengthAdjust="spacingAndGlyphs">111.253</text>
<rect x="1648.5" y="120.5" width="4" height="4" fill="#fff" stroke="#ff0000" stroke-width="1" shape-rendering="crispEdges"/>
<rect x="1655" y="133" width="41" height="11" fill="#32cd32" shape-rendering="crispEdges"/>
<text x="1659.3" y="141.6" font-size="9.6" fill="#fff" stroke="#fff" stroke-width="0.2" text-anchor="start" textLength="32.5" lengthAdjust="spacingAndGlyphs">111.150</text>
<rect x="1648.5" y="137.5" width="4" height="4" fill="#fff" stroke="#32cd32" stroke-width="1" shape-rendering="crispEdges"/>
<rect x="1655" y="151" width="41" height="11" fill="#000000" shape-rendering="crispEdges"/>
<text x="1659.3" y="159.6" font-size="9.6" fill="#fff" stroke="#fff" stroke-width="0.2" text-anchor="start" textLength="32.5" lengthAdjust="spacingAndGlyphs">111.047</text>
<rect x="1655" y="177" width="41" height="11" fill="#0000ff" shape-rendering="crispEdges"/>
<text x="1659.3" y="185.6" font-size="9.6" fill="#fff" stroke="#fff" stroke-width="0.2" text-anchor="start" textLength="32.5" lengthAdjust="spacingAndGlyphs">110.884</text>
<rect x="1648.5" y="181.5" width="4" height="4" fill="#fff" stroke="#0000ff" stroke-width="1" shape-rendering="crispEdges"/>
<rect x="1655" y="201" width="41" height="11" fill="#0000ff" shape-rendering="crispEdges"/>
<text x="1659.3" y="209.6" font-size="9.6" fill="#fff" stroke="#fff" stroke-width="0.2" text-anchor="start" textLength="32.5" lengthAdjust="spacingAndGlyphs">110.739</text>
<rect x="1648.5" y="205.5" width="4" height="4" fill="#fff" stroke="#0000ff" stroke-width="1" shape-rendering="crispEdges"/>
<text x="1657.0" y="594.5" font-size="9.6" fill="#000" stroke="#000" stroke-width="0.2" text-anchor="start" textLength="27.5" lengthAdjust="spacingAndGlyphs">0.2901</text>
<text x="1657.0" y="709.0" font-size="9.6" fill="#000" stroke="#000" stroke-width="0.2" text-anchor="start" textLength="18.0" lengthAdjust="spacingAndGlyphs">0.00</text>
<text x="1657.0" y="751.0" font-size="9.6" fill="#000" stroke="#000" stroke-width="0.2" text-anchor="start" textLength="26.0" lengthAdjust="spacingAndGlyphs">-0.119</text>
<text x="1657.0" y="767.0" font-size="9.6" fill="#000" stroke="#000" stroke-width="0.2" text-anchor="start" textLength="14.5" lengthAdjust="spacingAndGlyphs">100</text>
<text x="1657.0" y="796.0" font-size="9.6" fill="#000" stroke="#000" stroke-width="0.2" text-anchor="start" textLength="9.7" lengthAdjust="spacingAndGlyphs">80</text>
<text x="1657.0" y="847.0" font-size="9.6" fill="#000" stroke="#000" stroke-width="0.2" text-anchor="start" textLength="9.7" lengthAdjust="spacingAndGlyphs">50</text>
<text x="1657.0" y="908.0" font-size="9.6" fill="#000" stroke="#000" stroke-width="0.2" text-anchor="start" textLength="9.7" lengthAdjust="spacingAndGlyphs">15</text>
<text x="1657.0" y="927.0" font-size="9.6" fill="#000" stroke="#000" stroke-width="0.2" text-anchor="start" textLength="4.8" lengthAdjust="spacingAndGlyphs">0</text>
<text x="-5.0" y="942.3" font-size="9.6" fill="#000" stroke="#000" stroke-width="0.2" text-anchor="start" textLength="52.7" lengthAdjust="spacingAndGlyphs">20 May 2021</text>
<text x="59.0" y="942.3" font-size="9.6" fill="#000" stroke="#000" stroke-width="0.2" text-anchor="start" textLength="55.3" lengthAdjust="spacingAndGlyphs">24 May 04:00</text>
<text x="123.0" y="942.3" font-size="9.6" fill="#000" stroke="#000" stroke-width="0.2" text-anchor="start" textLength="55.3" lengthAdjust="spacingAndGlyphs">25 May 12:00</text>
<text x="187.0" y="942.3" font-size="9.6" fill="#000" stroke="#000" stroke-width="0.2" text-anchor="start" textLength="55.3" lengthAdjust="spacingAndGlyphs">26 May 20:00</text>
<text x="251.0" y="942.3" font-size="9.6" fill="#000" stroke="#000" stroke-width="0.2" text-anchor="start" textLength="55.3" lengthAdjust="spacingAndGlyphs">28 May 04:00</text>
<text x="315.0" y="942.3" font-size="9.6" fill="#000" stroke="#000" stroke-width="0.2" text-anchor="start" textLength="55.3" lengthAdjust="spacingAndGlyphs">31 May 12:00</text>
<text x="379.0" y="942.3" font-size="9.6" fill="#000" stroke="#000" stroke-width="0.2" text-anchor="start" textLength="47.7" lengthAdjust="spacingAndGlyphs">1 Jun 20:00</text>
<text x="443.0" y="942.3" font-size="9.6" fill="#000" stroke="#000" stroke-width="0.2" text-anchor="start" textLength="47.7" lengthAdjust="spacingAndGlyphs">3 Jun 04:00</text>
<text x="507.0" y="942.3" font-size="9.6" fill="#000" stroke="#000" stroke-width="0.2" text-anchor="start" textLength="47.7" lengthAdjust="spacingAndGlyphs">4 Jun 12:00</text>
<text x="571.0" y="942.3" font-size="9.6" fill="#000" stroke="#000" stroke-width="0.2" text-anchor="start" textLength="47.7" lengthAdjust="spacingAndGlyphs">7 Jun 20:00</text>
<text x="635.0" y="942.3" font-size="9.6" fill="#000" stroke="#000" stroke-width="0.2" text-anchor="start" textLength="47.7" lengthAdjust="spacingAndGlyphs">9 Jun 04:00</text>
<text x="699.0" y="942.3" font-size="9.6" fill="#000" stroke="#000" stroke-width="0.2" text-anchor="start" textLength="52.7" lengthAdjust="spacingAndGlyphs">10 Jun 12:00</text>
<text x="763.0" y="942.3" font-size="9.6" fill="#000" stroke="#000" stroke-width="0.2" text-anchor="start" textLength="52.7" lengthAdjust="spacingAndGlyphs">13 Jun 23:00</text>
<text x="827.0" y="942.3" font-size="9.6" fill="#000" stroke="#000" stroke-width="0.2" text-anchor="start" textLength="52.7" lengthAdjust="spacingAndGlyphs">15 Jun 04:00</text>
<text x="891.0" y="942.3" font-size="9.6" fill="#000" stroke="#000" stroke-width="0.2" text-anchor="start" textLength="52.7" lengthAdjust="spacingAndGlyphs">16 Jun 12:00</text>
<text x="955.0" y="942.3" font-size="9.6" fill="#000" stroke="#000" stroke-width="0.2" text-anchor="start" textLength="52.7" lengthAdjust="spacingAndGlyphs">17 Jun 20:00</text>
<text x="1019.0" y="942.3" font-size="9.6" fill="#000" stroke="#000" stroke-width="0.2" text-anchor="start" textLength="52.7" lengthAdjust="spacingAndGlyphs">21 Jun 04:00</text>
<text x="1083.0" y="942.3" font-size="9.6" fill="#000" stroke="#000" stroke-width="0.2" text-anchor="start" textLength="52.7" lengthAdjust="spacingAndGlyphs">22 Jun 12:00</text>
<text x="1147.0" y="942.3" font-size="9.6" fill="#000" stroke="#000" stroke-width="0.2" text-anchor="start" textLength="52.7" lengthAdjust="spacingAndGlyphs">23 Jun 20:00</text>
<text x="1211.0" y="942.3" font-size="9.6" fill="#000" stroke="#000" stroke-width="0.2" text-anchor="start" textLength="52.7" lengthAdjust="spacingAndGlyphs">25 Jun 04:00</text>
<text x="1275.0" y="942.3" font-size="9.6" fill="#000" stroke="#000" stroke-width="0.2" text-anchor="start" textLength="52.7" lengthAdjust="spacingAndGlyphs">28 Jun 12:00</text>
<text x="1339.0" y="942.3" font-size="9.6" fill="#000" stroke="#000" stroke-width="0.2" text-anchor="start" textLength="52.7" lengthAdjust="spacingAndGlyphs">29 Jun 20:00</text>
<text x="1403.0" y="942.3" font-size="9.6" fill="#000" stroke="#000" stroke-width="0.2" text-anchor="start" textLength="44.6" lengthAdjust="spacingAndGlyphs">1 Jul 04:00</text>
<text x="1467.0" y="942.3" font-size="9.6" fill="#000" stroke="#000" stroke-width="0.2" text-anchor="start" textLength="44.6" lengthAdjust="spacingAndGlyphs">2 Jul 12:00</text>
<text x="10.5" y="41.0" font-size="9.6" fill="#000" stroke="#000" stroke-width="0.2" text-anchor="start" textLength="200.0" lengthAdjust="spacingAndGlyphs">USDJPY-,H4&#160;&#160;111.284 111.294 110.945 111.047</text>
<polygon points="0,40 2.5,36 5,40" fill="#000"/>
<text x="-0.7" y="597.0" font-size="9.6" fill="#000" stroke="#000" stroke-width="0.2" text-anchor="start" textLength="127.2" lengthAdjust="spacingAndGlyphs">MACD(12,26,9) 0.1798 0.2111</text>
<text x="0.0" y="769.0" font-size="9.6" fill="#000" stroke="#000" stroke-width="0.2" text-anchor="start" textLength="66.5" lengthAdjust="spacingAndGlyphs">RSI(14) 48.4072</text>
<polygon points="1480,30 1491,30 1485.5,35" fill="#b4b4b4"/>
<g shape-rendering="crispEdges">
<rect x="0" y="49" width="50" height="25" fill="url(#gTop)"/>
<rect x="166" y="49" width="51" height="25" fill="url(#gTop)"/>
<rect x="0" y="73" width="107" height="33" fill="url(#gBot)"/>
<rect x="109" y="73" width="108" height="33" fill="url(#gBot)"/>
<rect x="0" y="49" width="50" height="1" fill="#c81818"/><rect x="49" y="49" width="1" height="24" fill="#c81818"/>
<rect x="166" y="49" width="51" height="1" fill="#c81818"/><rect x="166" y="49" width="1" height="24" fill="#c81818"/><rect x="216" y="49" width="1" height="57" fill="#b01010"/>
<rect x="106" y="73" width="1" height="33" fill="#a80808"/><rect x="109" y="73" width="1" height="33" fill="#c82020"/>
<rect x="0" y="105" width="107" height="1" fill="#980000"/><rect x="109" y="105" width="108" height="1" fill="#980000"/>
<rect x="50" y="73" width="57" height="1" fill="#c01818"/><rect x="109" y="73" width="57" height="1" fill="#c01818"/>
<rect x="2" y="72" width="44" height="1" fill="#980000"/><rect x="2" y="73" width="44" height="1" fill="#f06868"/>
<rect x="170" y="72" width="44" height="1" fill="#980000"/><rect x="170" y="73" width="44" height="1" fill="#f06868"/>
<rect x="52.5" y="49.5" width="110" height="21" fill="#fff" stroke="#a8a8b0"/>
<rect x="54" y="51" width="19" height="9" fill="#ececec"/><rect x="54" y="60" width="19" height="9" fill="#d6d6d6"/>
<rect x="142" y="51" width="19" height="9" fill="#ececec"/><rect x="142" y="60" width="19" height="9" fill="#d6d6d6"/>
<rect x="73" y="50" width="1" height="20" fill="#b8b8c0"/>
<rect x="141" y="50" width="1" height="20" fill="#b8b8c0"/>
</g>
<polygon points="60,58 65,58 62.5,61" fill="#4060c0"/>
<polygon points="149,61 154,61 151.5,58" fill="#4060c0"/>
<text x="138" y="64" font-size="12" text-anchor="end" fill="#000">1.00</text>
<text x="10.6" y="64.7" font-size="11.5" fill="#fff" textLength="25" lengthAdjust="spacingAndGlyphs">SELL</text>
<text x="178.5" y="64.7" font-size="11.5" fill="#fff" textLength="22.6" lengthAdjust="spacingAndGlyphs">BUY</text>
<text x="21.5" y="100.7" font-size="11.5" font-weight="bold" fill="#fff" textLength="20" lengthAdjust="spacingAndGlyphs">111</text>
<text x="46" y="100.9" font-size="33.5" fill="#fff" stroke="url(#gBotU)" stroke-width="0.9" textLength="34" lengthAdjust="spacingAndGlyphs">04</text>
<text x="85" y="84.7" font-size="11.5" font-weight="bold" fill="#fff">7</text>
<text x="132" y="100.7" font-size="11.5" font-weight="bold" fill="#fff" textLength="20" lengthAdjust="spacingAndGlyphs">111</text>
<text x="157" y="100.9" font-size="33.5" fill="#fff" stroke="url(#gBotU)" stroke-width="0.9" textLength="34" lengthAdjust="spacingAndGlyphs">06</text>
<text x="196.6" y="84.7" font-size="11.5" font-weight="bold" fill="#fff">3</text>
<g>
<rect x="0" y="0" width="1700" height="25" fill="#f0f0f0"/>
<rect x="0" y="25" width="1700" height="1" fill="#a0a0a0" shape-rendering="crispEdges"/>
<rect x="0" y="26" width="1700" height="1" fill="#696969" shape-rendering="crispEdges"/>
<rect x="0" y="27" width="1700" height="2" fill="#fff" shape-rendering="crispEdges"/>
<circle cx="-3" cy="12" r="5.500" fill="#d8ecfa" stroke="#6a9fd0" stroke-width="1.500"/>
<line x1="1" y1="17.500" x2="6" y2="22" stroke="#c8a030" stroke-width="2.500"/>
<path d="M4 14.5h3M5.5 13v3" stroke="#000" stroke-width="0.8" fill="none"/>
<rect x="14" y="2" width="1" height="21" fill="#a0a0a0" shape-rendering="crispEdges"/><rect x="15" y="2" width="1" height="21" fill="#fff" shape-rendering="crispEdges"/>
<path d="M24.5 5.5h8l3 3v10.500h-11z" fill="#fff" stroke="#606060" stroke-width="1"/>
<path d="M32.500 5.500v3h3" fill="none" stroke="#606060" stroke-width="0.8"/>
<path d="M26.500 8.500h3M26.500 11.500h5M26.500 14.500h3" stroke="#909090" stroke-width="1" fill="none"/>
<path d="M32 11h4v4h4v4h-4v4h-4v-4h-4v-4h4z" fill="#10c010" stroke="#007800" stroke-width="0.8"/>
<text x="43" y="16.2" font-size="12" fill="#000" textLength="36" lengthAdjust="spacingAndGlyphs" style="font-family:'Liberation Sans','Noto Sans CJK SC',sans-serif">新订单</text>
<path d="M91 14.5l7.500-8 8.500 6.500-7 8z" fill="#e8b830" stroke="#a87000" stroke-width="1"/>
<path d="M100 21l7-8 0.500 1.500-6.500 7.500z" fill="#fff4c0" stroke="#a87000" stroke-width="0.6"/>
<path d="M121 6l8-1.500 1.500 1v9h-9.500z" fill="#3090e8" stroke="#1060b0" stroke-width="0.8"/>
<rect x="124" y="8" width="5" height="1.500" fill="#d0e8ff"/><rect x="124" y="11" width="5" height="1.500" fill="#d0e8ff"/>
<path d="M122 21.500a3 3 0 0 1 0.500-6 4 4 0 0 1 7-1 3.500 3.500 0 0 1 4 3.500 2 2 0 0 1-1.500 3.500z" fill="#f4f8ff" stroke="#7090c0" stroke-width="1"/>
<circle cx="155" cy="13" r="7.500" fill="none" stroke="#9cc0e8" stroke-width="1.300"/>
<circle cx="155" cy="13" r="4.800" fill="none" stroke="#6090d8" stroke-width="1.300"/>
<path d="M155 13v8a8 8 0 0 0 7.500-6z" fill="#60b060" opacity="0.85"/>
<circle cx="155" cy="13" r="2" fill="#2858c8"/>
<rect x="154.500" y="13" width="1.300" height="8" fill="#20a020"/>
<path d="M176 11.500l6 9h3l5-9z" fill="#f0d040" stroke="#b09010" stroke-width="0.8"/>
<ellipse cx="182.500" cy="10.500" rx="8" ry="3.200" fill="#58a8e0" stroke="#2878b8" stroke-width="0.8"/>
<path d="M178.500 9.500a4 4.500 0 0 1 8 0z" fill="#78c0f0" stroke="#2878b8" stroke-width="0.8"/>
<circle cx="186.500" cy="17" r="4.300" fill="#e02810" stroke="#a01000" stroke-width="0.6"/>
<rect x="184.800" y="15.300" width="3.400" height="3.400" fill="#fff"/>
<text x="195" y="16.2" font-size="12" fill="#000" textLength="47.6" lengthAdjust="spacingAndGlyphs" style="font-family:'Liberation Sans','Noto Sans CJK SC',sans-serif">自动交易</text>
<rect x="250" y="2" width="1" height="21" fill="#a0a0a0" shape-rendering="crispEdges"/><rect x="251" y="2" width="1" height="21" fill="#fff" shape-rendering="crispEdges"/>
<g shape-rendering="crispEdges"><rect x="254" y="3" width="3" height="1" fill="#9a9a9a"/><rect x="254" y="5" width="3" height="1" fill="#9a9a9a"/><rect x="254" y="7" width="3" height="1" fill="#9a9a9a"/><rect x="254" y="9" width="3" height="1" fill="#9a9a9a"/><rect x="254" y="11" width="3" height="1" fill="#9a9a9a"/><rect x="254" y="13" width="3" height="1" fill="#9a9a9a"/><rect x="254" y="15" width="3" height="1" fill="#9a9a9a"/><rect x="254" y="17" width="3" height="1" fill="#9a9a9a"/><rect x="254" y="19" width="3" height="1" fill="#9a9a9a"/><rect x="254" y="21" width="3" height="1" fill="#9a9a9a"/></g>
<g fill="#555555" shape-rendering="crispEdges"><rect x="268" y="8" width="1" height="13"/><rect x="266" y="18" width="14" height="1"/></g><polygon points="268.5,6.5 266.3,10 270.7,10" fill="#555555"/><polygon points="281.5,18.5 278.0,16.3 278.0,20.7" fill="#555555"/>
<path d="M274.500 8v9.500M274.500 9.500h2.500M272 15.500h2.500" stroke="#008800" stroke-width="1.300" fill="none"/>
<g shape-rendering="crispEdges"><rect x="289" y="2" width="24" height="21" fill="#f8f8f8"/><rect x="288" y="1" width="25" height="1" fill="#a0a0a0"/><rect x="288" y="1" width="1" height="22" fill="#a0a0a0"/><rect x="288" y="23" width="26" height="1" fill="#fff"/><rect x="313" y="1" width="1" height="23" fill="#fff"/></g>
<g fill="#555555" shape-rendering="crispEdges"><rect x="296" y="8" width="1" height="13"/><rect x="294" y="18" width="14" height="1"/></g><polygon points="296.5,6.5 294.3,10 298.7,10" fill="#555555"/><polygon points="309.5,18.5 306.0,16.3 306.0,20.7" fill="#555555"/>
<rect x="302" y="5" width="1" height="12" fill="#008800" shape-rendering="crispEdges"/>
<rect x="300.500" y="7.500" width="4" height="7" fill="#50e050" stroke="#008800" stroke-width="1"/>
<g fill="#555555" shape-rendering="crispEdges"><rect x="324" y="8" width="1" height="13"/><rect x="322" y="18" width="14" height="1"/></g><polygon points="324.5,6.5 322.3,10 326.7,10" fill="#555555"/><polygon points="337.5,18.5 334.0,16.3 334.0,20.7" fill="#555555"/>
<path d="M323 15.800c3-2.500 4-5.500 6-5.500s3 3 6 3.800" stroke="#30a030" stroke-width="1.200" fill="none"/>
<rect x="345" y="2" width="1" height="21" fill="#a0a0a0" shape-rendering="crispEdges"/><rect x="346" y="2" width="1" height="21" fill="#fff" shape-rendering="crispEdges"/>
<line x1="363.6" y1="15.200" x2="368.6" y2="19.800" stroke="#b08000" stroke-width="3.600"/>
<line x1="363.9" y1="15.400" x2="368.3" y2="19.500" stroke="#f0d040" stroke-width="2"/>
<circle cx="360.1" cy="10.800" r="5.300" fill="#d4ecfc" stroke="#3a80c8" stroke-width="1.400"/>
<rect x="357.1" y="10" width="6" height="1.800" fill="#3888b0"/>
<rect x="359.2" y="7.900" width="1.800" height="6" fill="#3888b0"/>
<line x1="391.6" y1="15.200" x2="396.6" y2="19.800" stroke="#b08000" stroke-width="3.600"/>
<line x1="391.9" y1="15.400" x2="396.3" y2="19.500" stroke="#f0d040" stroke-width="2"/>
<circle cx="388.1" cy="10.800" r="5.300" fill="#d4ecfc" stroke="#3a80c8" stroke-width="1.400"/>
<rect x="385.1" y="10" width="6" height="1.800" fill="#3888b0"/>
<rect x="410" y="5" width="8" height="8" fill="#2a9a1a"/>
<rect x="411" y="8" width="6" height="4" fill="#fff" opacity="0.92"/>
<rect x="412" y="9" width="3" height="1" fill="#2a9a1a" opacity="0.6"/>
<rect x="411" y="6" width="1" height="1" fill="#cfe0ff"/>
<rect x="418" y="5" width="8" height="8" fill="#1848c8"/>
<rect x="419" y="8" width="6" height="4" fill="#fff" opacity="0.92"/>
<rect x="420" y="9" width="3" height="1" fill="#1848c8" opacity="0.6"/>
<rect x="419" y="6" width="1" height="1" fill="#cfe0ff"/>
<rect x="410" y="13" width="8" height="8" fill="#1848c8"/>
<rect x="411" y="16" width="6" height="4" fill="#fff" opacity="0.92"/>
<rect x="412" y="17" width="3" height="1" fill="#1848c8" opacity="0.6"/>
<rect x="411" y="14" width="1" height="1" fill="#cfe0ff"/>
<rect x="418" y="13" width="8" height="8" fill="#2a9a1a"/>
<rect x="419" y="16" width="6" height="4" fill="#fff" opacity="0.92"/>
<rect x="420" y="17" width="3" height="1" fill="#2a9a1a" opacity="0.6"/>
<rect x="419" y="14" width="1" height="1" fill="#cfe0ff"/>
<rect x="435" y="2" width="1" height="21" fill="#a0a0a0" shape-rendering="crispEdges"/><rect x="436" y="2" width="1" height="21" fill="#fff" shape-rendering="crispEdges"/>
<g shape-rendering="crispEdges"><rect x="441" y="2" width="24" height="21" fill="#f8f8f8"/><rect x="440" y="1" width="25" height="1" fill="#a0a0a0"/><rect x="440" y="1" width="1" height="22" fill="#a0a0a0"/><rect x="440" y="23" width="26" height="1" fill="#fff"/><rect x="465" y="1" width="1" height="23" fill="#fff"/></g>
<g fill="#555555" shape-rendering="crispEdges"><rect x="448" y="8" width="1" height="13"/><rect x="446" y="18" width="14" height="1"/></g><polygon points="448.5,6.5 446.3,10 450.7,10" fill="#555555"/><polygon points="461.5,18.5 458.0,16.3 458.0,20.7" fill="#555555"/>
<polygon points="453,9.300 453,15.600 456.800,12.400" fill="#80e880" stroke="#10a010" stroke-width="1"/>
<g shape-rendering="crispEdges"><rect x="469" y="2" width="24" height="21" fill="#f8f8f8"/><rect x="468" y="1" width="25" height="1" fill="#a0a0a0"/><rect x="468" y="1" width="1" height="22" fill="#a0a0a0"/><rect x="468" y="23" width="26" height="1" fill="#fff"/><rect x="493" y="1" width="1" height="23" fill="#fff"/></g>
<g fill="#555555" shape-rendering="crispEdges"><rect x="476" y="8" width="1" height="13"/><rect x="474" y="18" width="14" height="1"/></g><polygon points="476.5,6.5 474.3,10 478.7,10" fill="#555555"/><polygon points="489.5,18.5 486.0,16.3 486.0,20.7" fill="#555555"/>
<rect x="482" y="7" width="1.300" height="10" fill="#1070b0"/>
<path d="M488 12.400h-4.500M485.800 10.200l-2.300 2.200 2.300 2.200z" stroke="#e05000" stroke-width="1" fill="#e05000"/>
<rect x="497" y="2" width="1" height="21" fill="#a0a0a0" shape-rendering="crispEdges"/><rect x="498" y="2" width="1" height="21" fill="#fff" shape-rendering="crispEdges"/>
<path d="M507.500 5.500h8l3 3v10h-11z" fill="#fff" stroke="#707070" stroke-width="1"/>
<path d="M511.500 8c-1.500 0-1.500 1-1.500 2.500v5M509 11.500h3" stroke="#605030" stroke-width="0.9" fill="none"/>
<path d="M515 11.500h4v4h4v3.800h-4v4h-4v-4h-4v-3.800h4z" fill="#10c818" stroke="#007800" stroke-width="0.8"/>
<polygon points="528.5,12 534.1,12 531.3,15" fill="#000"/>
<circle cx="553" cy="13" r="7" fill="#fff" stroke="#1470d0" stroke-width="2.200"/>
<circle cx="553" cy="13" r="8" fill="none" stroke="#0a4ea0" stroke-width="0.500"/>
<path d="M552.500 9v4.300h3.200" stroke="#101010" stroke-width="1.300" fill="none"/>
<polygon points="567.7,12 573.3,12 570.5,15" fill="#000"/>
<rect x="584.500" y="6.500" width="15" height="13" fill="#fff" stroke="#3070c0" stroke-width="1"/>
<rect x="585" y="7" width="14" height="2" fill="#5a98e0"/>
<rect x="585" y="13" width="14" height="1" fill="#b8d4f0"/>
<path d="M587 11.500h2l1.500-1.500h2l1.500 1h1.500l1.500-1.500" stroke="#a02010" stroke-width="1.200" fill="none"/>
<path d="M587 17h2l1.500-1h1.500l2-1.500 2 2.500" stroke="#109020" stroke-width="1.200" fill="none"/>
<polygon points="606.7,12 612.3,12 609.5,15" fill="#000"/>
<rect x="618" y="2" width="1" height="21" fill="#a0a0a0" shape-rendering="crispEdges"/><rect x="619" y="2" width="1" height="21" fill="#fff" shape-rendering="crispEdges"/>
<g shape-rendering="crispEdges"><rect x="622" y="3" width="3" height="1" fill="#9a9a9a"/><rect x="622" y="5" width="3" height="1" fill="#9a9a9a"/><rect x="622" y="7" width="3" height="1" fill="#9a9a9a"/><rect x="622" y="9" width="3" height="1" fill="#9a9a9a"/><rect x="622" y="11" width="3" height="1" fill="#9a9a9a"/><rect x="622" y="13" width="3" height="1" fill="#9a9a9a"/><rect x="622" y="15" width="3" height="1" fill="#9a9a9a"/><rect x="622" y="17" width="3" height="1" fill="#9a9a9a"/><rect x="622" y="19" width="3" height="1" fill="#9a9a9a"/><rect x="622" y="21" width="3" height="1" fill="#9a9a9a"/></g>
<g shape-rendering="crispEdges"><rect x="629" y="2" width="24" height="21" fill="#f8f8f8"/><rect x="628" y="1" width="25" height="1" fill="#a0a0a0"/><rect x="628" y="1" width="1" height="22" fill="#a0a0a0"/><rect x="628" y="23" width="26" height="1" fill="#fff"/><rect x="653" y="1" width="1" height="23" fill="#fff"/></g>
<path d="M636 5.800v11.700l2.700-2.500 2.300 5.200 1.800-0.800-2.300-5.100h3.700z" fill="#505050"/>
<path d="M668.500 6v6M668.500 15v6M661 13.500h6M670 13.500h6" stroke="#505050" stroke-width="1" fill="none" shape-rendering="crispEdges"/>
<rect x="685" y="2" width="1" height="21" fill="#a0a0a0" shape-rendering="crispEdges"/><rect x="686" y="2" width="1" height="21" fill="#fff" shape-rendering="crispEdges"/>
<rect x="702" y="7" width="1" height="13" fill="#505050" shape-rendering="crispEdges"/>
<rect x="725" y="13" width="12" height="1" fill="#505050" shape-rendering="crispEdges"/>
<line x1="752.600" y1="19.800" x2="765" y2="8" stroke="#505050" stroke-width="1.100"/>
<path d="M779 15l12-8M781.500 18l11.500-7.700M784 20.500l8.500-5.700" stroke="#505050" stroke-width="1" fill="none"/>
<path d="M782.500 11l2 8M786.500 8.500l2 8M790.500 5.500l2 8" stroke="#505050" stroke-width="0.900" fill="none"/>
<text x="789.800" y="21.800" font-size="7" font-weight="bold" fill="#303030">E</text>
<line x1="808" y1="6.5" x2="821" y2="6.5" stroke="#505050" stroke-width="1" stroke-dasharray="1 1" shape-rendering="crispEdges"/>
<line x1="808" y1="10.5" x2="821" y2="10.5" stroke="#505050" stroke-width="1" stroke-dasharray="1 1" shape-rendering="crispEdges"/>
<line x1="808" y1="13.5" x2="821" y2="13.5" stroke="#505050" stroke-width="1" stroke-dasharray="1 1" shape-rendering="crispEdges"/>
<line x1="808" y1="17.5" x2="817" y2="17.5" stroke="#505050" stroke-width="1" stroke-dasharray="1 1" shape-rendering="crispEdges"/>
<text x="817.800" y="21.800" font-size="7" font-weight="bold" fill="#303030">F</text>
<text x="838.400" y="18" font-size="12.500" font-weight="bold" fill="#505050">A</text>
<rect x="865" y="7" width="12" height="13" fill="none" stroke="#505050" stroke-width="1" stroke-dasharray="1 1" shape-rendering="crispEdges"/>
<text x="867" y="18" font-size="12.500" font-weight="bold" fill="#505050" textLength="8" lengthAdjust="spacingAndGlyphs">T</text>
<polygon points="895.600,7 899,10.300 895.600,11.800 892.200,10.300" fill="#404040"/>
<polygon points="902.700,20 906,16.500 902.700,15.200 899.300,16.500" fill="#404040"/>
<path d="M894.500 13.500l2 2.500 4.500-5" stroke="#404040" stroke-width="1.300" fill="none"/>
<polygon points="912.7,12 918.3,12 915.5,15" fill="#000"/>
<rect x="924" y="2" width="1" height="21" fill="#a0a0a0" shape-rendering="crispEdges"/><rect x="925" y="2" width="1" height="21" fill="#fff" shape-rendering="crispEdges"/>
<g shape-rendering="crispEdges"><rect x="928" y="3" width="3" height="1" fill="#9a9a9a"/><rect x="928" y="5" width="3" height="1" fill="#9a9a9a"/><rect x="928" y="7" width="3" height="1" fill="#9a9a9a"/><rect x="928" y="9" width="3" height="1" fill="#9a9a9a"/><rect x="928" y="11" width="3" height="1" fill="#9a9a9a"/><rect x="928" y="13" width="3" height="1" fill="#9a9a9a"/><rect x="928" y="15" width="3" height="1" fill="#9a9a9a"/><rect x="928" y="17" width="3" height="1" fill="#9a9a9a"/><rect x="928" y="19" width="3" height="1" fill="#9a9a9a"/><rect x="928" y="21" width="3" height="1" fill="#9a9a9a"/></g>
<g shape-rendering="crispEdges"><rect x="1075" y="2" width="24" height="21" fill="#f8f8f8"/><rect x="1074" y="1" width="25" height="1" fill="#a0a0a0"/><rect x="1074" y="1" width="1" height="22" fill="#a0a0a0"/><rect x="1074" y="23" width="26" height="1" fill="#fff"/><rect x="1099" y="1" width="1" height="23" fill="#fff"/></g>
<text x="939.0" y="17" font-size="9.600" fill="#404040" textLength="13.0" lengthAdjust="spacingAndGlyphs">M1</text>
<text x="967.5" y="17" font-size="9.600" fill="#404040" textLength="13.0" lengthAdjust="spacingAndGlyphs">M5</text>
<text x="993.6" y="17" font-size="9.600" fill="#404040" textLength="17.4" lengthAdjust="spacingAndGlyphs">M15</text>
<text x="1021.8" y="17" font-size="9.600" fill="#404040" textLength="17.7" lengthAdjust="spacingAndGlyphs">M30</text>
<text x="1052.9" y="17" font-size="9.600" fill="#404040" textLength="11.1" lengthAdjust="spacingAndGlyphs">H1</text>
<text x="1079.0" y="17" font-size="9.600" fill="#404040" textLength="12.7" lengthAdjust="spacingAndGlyphs">H4</text>
<text x="1108.0" y="17" font-size="9.600" fill="#404040" textLength="12.0" lengthAdjust="spacingAndGlyphs">D1</text>
<text x="1135.8" y="17" font-size="9.600" fill="#404040" textLength="14.2" lengthAdjust="spacingAndGlyphs">W1</text>
<text x="1162.0" y="17" font-size="9.600" fill="#404040" textLength="15.0" lengthAdjust="spacingAndGlyphs">MN</text>
<rect x="1186" y="2" width="1" height="21" fill="#a0a0a0" shape-rendering="crispEdges"/><rect x="1187" y="2" width="1" height="21" fill="#fff" shape-rendering="crispEdges"/>
<circle cx="1656" cy="10" r="3.800" fill="#eaf4ff" stroke="#2060c8" stroke-width="1.600"/>
<line x1="1653.200" y1="13" x2="1648.500" y2="18" stroke="#2060c8" stroke-width="2.200"/>
<path d="M1673 13a4 3.500 0 0 1 8 0 4 3.500 0 0 1-4 3.500l-3 2.500 0.500-3a4 3.500 0 0 1-1.500-3z" fill="#f4f4f4" stroke="#a0a8b0" stroke-width="1"/>
<circle cx="1686.800" cy="10" r="7.900" fill="url(#gBadge)"/>
<circle cx="1686.800" cy="10" r="7.900" fill="none" stroke="#b82010" stroke-width="0.500"/>
<text x="1686.600" y="14.500" font-size="12.500" fill="#fff" text-anchor="middle">1</text><rect x="1683.700" y="13.500" width="5.600" height="1" fill="#fff"/>
</g>
<rect x="1699" y="0" width="1" height="945" fill="#f0f0f0"/>
</svg>
</body></html>
